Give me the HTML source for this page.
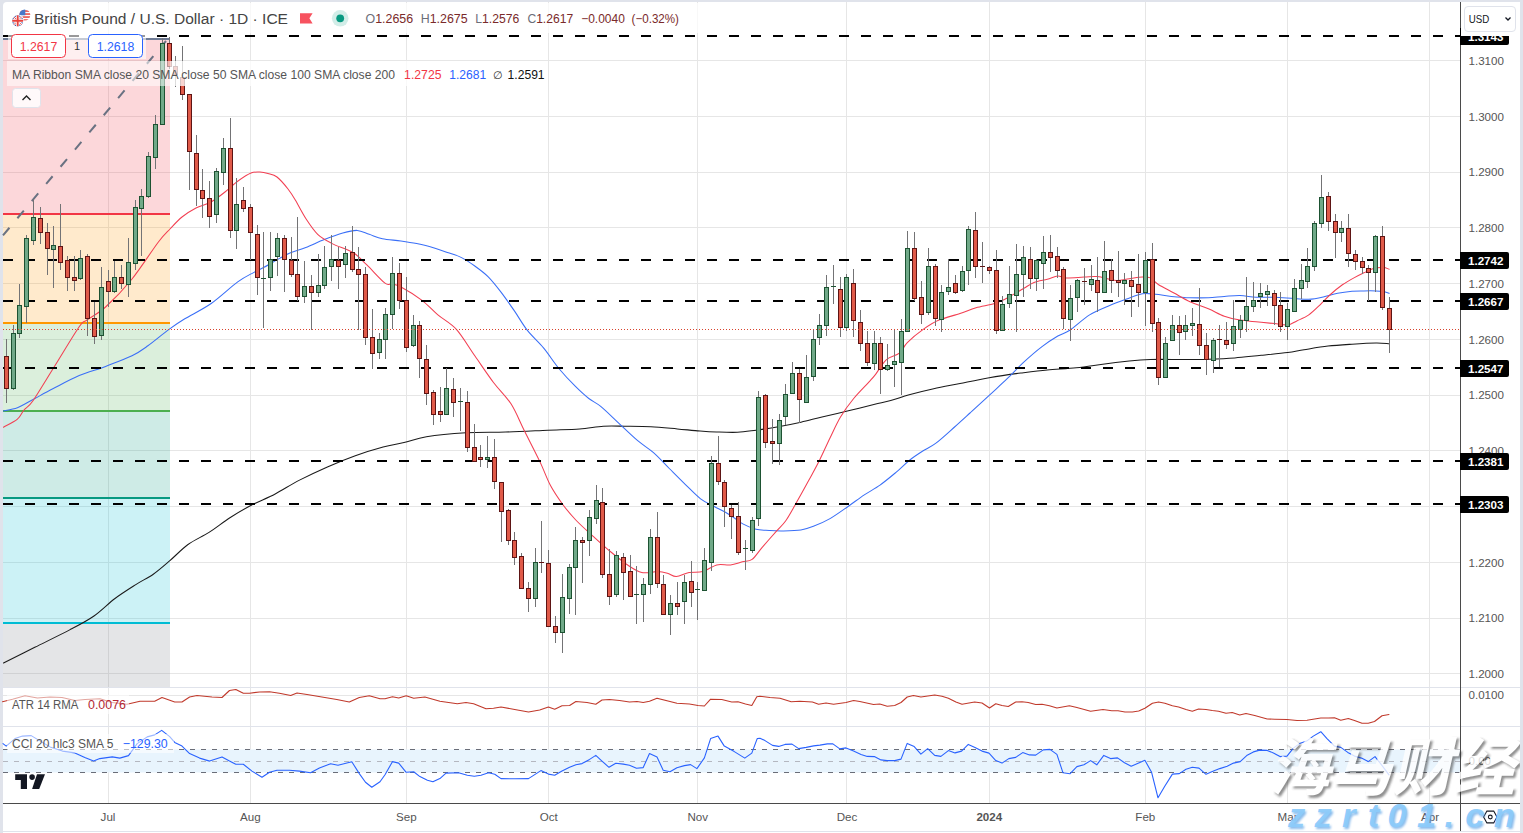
<!DOCTYPE html><html><head><meta charset="utf-8"><title>GBPUSD</title><style>html,body{margin:0;padding:0;background:#e0e3eb;overflow:hidden}body{width:1523px;height:833px}</style></head><body><svg width="1523" height="833" viewBox="0 0 1523 833" style="display:block">
<rect x="0" y="0" width="1523" height="833" fill="#e0e3eb"/>
<path d="M3,6 Q3,2 7,2 L1516,2 Q1520,2 1520,6 L1520,831 L3,831 Z" fill="#fff"/>
<rect x="3" y="832" width="1517" height="1" fill="#fff"/>
<g stroke="#e6e6e6" stroke-width="1" shape-rendering="crispEdges">
<line x1="108.5" y1="2" x2="108.5" y2="803"/>
<line x1="250.5" y1="2" x2="250.5" y2="803"/>
<line x1="406.5" y1="2" x2="406.5" y2="803"/>
<line x1="548.5" y1="2" x2="548.5" y2="803"/>
<line x1="697.5" y1="2" x2="697.5" y2="803"/>
<line x1="846.5" y1="2" x2="846.5" y2="803"/>
<line x1="989.5" y1="2" x2="989.5" y2="803"/>
<line x1="1145.5" y1="2" x2="1145.5" y2="803"/>
<line x1="1287.5" y1="2" x2="1287.5" y2="803"/>
<line x1="1429.5" y1="2" x2="1429.5" y2="803"/>
<line x1="3" y1="60.5" x2="1460" y2="60.5"/>
<line x1="3" y1="116.5" x2="1460" y2="116.5"/>
<line x1="3" y1="172.5" x2="1460" y2="172.5"/>
<line x1="3" y1="227.5" x2="1460" y2="227.5"/>
<line x1="3" y1="283.5" x2="1460" y2="283.5"/>
<line x1="3" y1="339.5" x2="1460" y2="339.5"/>
<line x1="3" y1="395.5" x2="1460" y2="395.5"/>
<line x1="3" y1="450.5" x2="1460" y2="450.5"/>
<line x1="3" y1="506.5" x2="1460" y2="506.5"/>
<line x1="3" y1="562.5" x2="1460" y2="562.5"/>
<line x1="3" y1="618.5" x2="1460" y2="618.5"/>
<line x1="3" y1="673.5" x2="1460" y2="673.5"/>
<line x1="3" y1="695.5" x2="1460" y2="695.5"/>
<line x1="3" y1="761.5" x2="1460" y2="761.5"/>
</g>
<rect x="3" y="39" width="167" height="175" fill="#f23645" fill-opacity="0.2"/>
<rect x="3" y="214" width="167" height="109" fill="#ff9800" fill-opacity="0.2"/>
<rect x="3" y="323" width="167" height="88" fill="#4caf50" fill-opacity="0.2"/>
<rect x="3" y="411" width="167" height="87" fill="#089981" fill-opacity="0.2"/>
<rect x="3" y="498" width="167" height="125" fill="#00bcd4" fill-opacity="0.2"/>
<rect x="3" y="623" width="167" height="64" fill="#787b86" fill-opacity="0.2"/>
<line x1="3" y1="39" x2="170" y2="39" stroke="#6f7b95" stroke-width="2"/>
<line x1="3" y1="214" x2="170" y2="214" stroke="#f23645" stroke-width="2"/>
<line x1="3" y1="323" x2="170" y2="323" stroke="#ff9800" stroke-width="2"/>
<line x1="3" y1="411" x2="170" y2="411" stroke="#4caf50" stroke-width="2"/>
<line x1="3" y1="498" x2="170" y2="498" stroke="#089981" stroke-width="2"/>
<line x1="3" y1="623" x2="170" y2="623" stroke="#00bcd4" stroke-width="2"/>
<line x1="3" y1="235.4" x2="166" y2="41" stroke="#6a7282" stroke-width="2" stroke-dasharray="10 12.4"/>
<path d="M3.5,663.0 C8.5,660.5 24.2,652.6 34.8,647.3 C45.4,642.0 60.2,634.9 69.7,629.9 C79.2,624.9 86.8,621.0 94.0,616.0 C101.2,611.0 108.3,603.5 115.0,598.5 C121.7,593.5 129.7,588.5 135.8,584.6 C141.9,580.7 147.9,578.0 153.3,574.2 C158.7,570.4 164.0,565.7 169.6,560.9 C175.2,556.1 181.7,549.1 188.0,544.5 C194.3,539.9 202.3,536.7 209.0,532.4 C215.7,528.1 223.2,522.0 229.9,517.7 C236.6,513.4 243.6,509.3 250.8,505.5 C258.0,501.7 267.4,498.1 275.2,494.0 C283.0,489.9 291.1,484.4 299.5,480.1 C307.9,475.8 318.5,470.8 327.4,466.9 C336.3,463.0 346.4,458.9 355.3,455.7 C364.2,452.5 375.3,449.1 383.1,447.0 C390.9,444.9 397.1,444.1 404.0,442.5 C410.9,440.9 416.5,438.4 426.4,436.8 C436.3,435.2 453.3,433.6 466.0,432.8 C478.7,432.0 492.5,432.4 505.6,432.0 C518.7,431.6 536.1,430.7 547.9,430.2 C559.7,429.7 570.7,429.5 579.6,428.9 C588.5,428.3 596.1,426.6 603.3,426.2 C610.5,425.8 616.9,426.1 624.5,426.2 C632.1,426.3 642.5,426.3 650.9,426.7 C659.3,427.1 669.4,428.2 677.3,428.9 C685.2,429.6 693.7,430.5 700.0,431.0 C706.3,431.5 710.4,431.8 716.4,432.0 C722.4,432.2 731.2,432.6 737.5,432.3 C743.8,432.0 749.7,431.0 756.0,430.2 C762.3,429.4 769.8,428.3 777.0,427.0 C784.2,425.7 793.8,423.8 801.0,422.2 C808.2,420.6 814.4,418.8 822.0,417.0 C829.6,415.2 840.0,412.8 848.4,410.8 C856.8,408.8 868.0,405.9 874.8,404.3 C881.6,402.7 885.2,402.1 890.7,400.6 C896.2,399.1 902.3,396.7 909.2,394.8 C916.1,392.9 925.6,390.6 933.7,388.8 C941.8,387.0 951.1,385.3 960.0,383.5 C968.9,381.7 979.5,379.4 989.2,377.7 C998.9,376.0 1011.6,374.2 1020.9,373.0 C1030.2,371.8 1038.4,370.7 1047.3,369.9 C1056.2,369.1 1067.5,368.6 1076.4,367.7 C1085.3,366.8 1094.4,365.3 1102.8,364.2 C1111.2,363.1 1121.6,361.9 1129.2,361.1 C1136.8,360.3 1141.9,359.8 1150.3,359.5 C1158.7,359.2 1172.7,359.5 1182.0,359.5 C1191.3,359.5 1200.0,359.5 1208.4,359.2 C1216.8,358.9 1226.4,358.5 1234.8,357.9 C1243.2,357.3 1252.7,356.1 1261.2,355.3 C1269.7,354.5 1280.9,353.5 1287.7,352.6 C1294.5,351.7 1297.6,350.7 1304.0,349.7 C1310.4,348.7 1320.3,347.0 1328.0,346.1 C1335.7,345.2 1344.3,344.7 1352.0,344.2 C1359.7,343.7 1370.0,343.1 1376.0,343.0 C1382.0,342.9 1387.1,343.6 1389.2,343.7" fill="none" stroke="#1a1a1a" stroke-width="1.05" stroke-linejoin="round" stroke-linecap="round" />
<path d="M3.5,411.0 C5.7,410.5 12.9,409.4 17.4,407.7 C21.9,406.0 26.0,403.2 31.7,400.2 C37.4,397.2 45.2,392.7 52.8,388.8 C60.4,384.9 70.8,379.2 79.2,375.6 C87.6,372.0 97.2,369.6 105.6,366.4 C114.0,363.2 125.2,359.1 132.0,355.8 C138.8,352.5 142.0,350.0 147.9,345.8 C153.8,341.6 163.1,333.7 169.0,329.4 C174.9,325.1 178.0,322.9 184.8,318.8 C191.6,314.7 202.7,309.4 211.2,303.5 C219.7,297.6 230.9,286.8 237.7,281.9 C244.5,277.0 249.3,274.9 253.5,272.6 C257.7,270.3 259.8,269.6 264.0,267.3 C268.2,265.0 275.8,260.4 280.0,258.1 C284.2,255.8 286.4,254.5 290.5,252.8 C294.6,251.1 300.4,249.6 305.8,247.5 C311.2,245.4 318.4,241.9 324.3,239.6 C330.2,237.3 337.5,234.5 342.8,233.0 C348.1,231.5 353.1,230.2 357.3,230.4 C361.5,230.6 365.2,233.0 369.2,234.3 C373.2,235.6 377.3,237.7 382.4,238.8 C387.5,239.9 395.4,240.1 400.9,240.9 C406.4,241.7 411.6,242.5 416.7,243.6 C421.8,244.7 427.5,246.0 432.6,247.5 C437.7,249.0 443.8,251.2 448.4,252.8 C453.0,254.4 457.4,255.5 461.6,257.6 C465.8,259.7 470.6,263.0 474.8,266.0 C479.0,269.0 483.8,272.4 488.0,276.6 C492.2,280.8 497.0,286.9 501.2,292.4 C505.4,297.9 510.2,304.8 514.4,310.9 C518.6,317.0 522.9,324.8 527.6,330.7 C532.3,336.6 538.4,341.8 543.5,347.9 C548.6,354.0 554.2,362.9 559.3,369.0 C564.4,375.1 570.5,381.5 575.2,386.2 C579.9,390.9 584.7,395.3 588.8,398.5 C592.9,401.7 595.8,402.4 600.7,406.4 C605.6,410.4 613.3,418.1 619.2,423.6 C625.1,429.1 632.2,436.1 637.7,440.7 C643.2,445.3 648.4,448.2 653.5,452.6 C658.6,457.0 664.2,463.4 669.3,468.5 C674.4,473.6 680.2,479.5 685.2,484.3 C690.2,489.1 696.0,495.3 700.6,498.8 C705.2,502.3 709.2,503.7 713.8,506.2 C718.4,508.7 725.0,511.9 729.6,514.7 C734.2,517.5 738.6,521.6 742.8,523.9 C747.0,526.2 751.8,528.1 756.0,529.2 C760.2,530.3 765.0,530.2 769.2,530.5 C773.4,530.8 777.3,531.1 782.4,531.0 C787.5,530.9 795.8,530.8 800.9,530.0 C806.0,529.2 809.3,527.8 814.0,526.0 C818.7,524.2 824.5,521.8 830.0,518.6 C835.5,515.4 842.9,510.0 848.4,506.2 C853.9,502.4 859.2,498.3 864.3,494.9 C869.4,491.5 874.9,488.7 880.0,485.1 C885.1,481.5 891.3,476.3 896.0,472.4 C900.7,468.5 905.0,463.9 909.2,460.5 C913.4,457.1 918.2,454.0 922.4,451.3 C926.6,448.6 930.5,447.2 935.6,443.4 C940.7,439.6 948.5,432.4 954.0,427.5 C959.5,422.6 964.4,418.1 970.0,413.0 C975.6,407.9 983.2,401.0 989.2,395.4 C995.2,389.8 1002.2,383.5 1007.7,378.2 C1013.2,372.9 1018.0,367.5 1023.5,362.4 C1029.0,357.3 1036.5,350.8 1042.0,346.6 C1047.5,342.4 1053.4,338.6 1057.8,336.0 C1062.2,333.4 1064.7,333.6 1069.8,330.2 C1074.9,326.8 1083.5,318.7 1089.6,314.9 C1095.7,311.1 1102.1,308.7 1108.0,306.2 C1113.9,303.7 1121.1,301.0 1126.6,299.0 C1132.1,297.0 1137.8,294.5 1142.4,293.7 C1147.0,292.9 1150.9,293.9 1155.6,294.3 C1160.3,294.7 1166.0,295.9 1171.5,296.4 C1177.0,296.9 1184.1,297.5 1190.0,297.7 C1195.9,297.9 1202.9,297.9 1208.4,297.7 C1213.9,297.5 1219.2,296.7 1224.3,296.4 C1229.4,296.1 1234.9,295.5 1240.0,295.6 C1245.1,295.7 1250.5,296.9 1256.0,297.2 C1261.5,297.5 1268.4,297.0 1274.5,297.2 C1280.6,297.4 1288.9,298.2 1294.4,298.5 C1299.9,298.8 1304.2,299.6 1308.8,299.3 C1313.4,299.0 1318.6,297.9 1323.2,296.9 C1327.8,295.9 1333.0,294.2 1337.6,293.3 C1342.2,292.4 1347.8,291.7 1352.0,291.3 C1356.2,290.9 1360.2,291.0 1364.0,290.9 C1367.8,290.8 1372.9,290.8 1376.0,290.9 C1379.1,291.0 1381.1,291.2 1383.2,291.6 C1385.3,292.0 1388.2,293.0 1389.2,293.3" fill="none" stroke="#3a6ff7" stroke-width="1.05" stroke-linejoin="round" stroke-linecap="round" />
<path d="M3.5,427.2 C5.7,425.9 14.1,422.0 17.4,419.2 C20.7,416.4 21.5,413.0 24.0,410.0 C26.5,407.0 28.2,407.6 33.0,400.7 C37.8,393.8 46.7,378.8 54.1,367.0 C61.5,355.2 73.9,334.2 79.2,326.7 C84.5,319.2 82.8,323.2 87.0,320.0 C91.2,316.8 98.4,313.6 105.6,307.0 C112.8,300.4 123.6,289.4 132.0,279.0 C140.4,268.6 152.3,250.0 158.4,242.0 C164.5,234.0 166.2,233.0 170.0,229.0 C173.8,225.0 177.8,220.4 182.0,217.0 C186.2,213.6 191.4,210.4 196.0,208.0 C200.6,205.6 206.4,204.6 211.0,202.0 C215.6,199.4 220.7,195.4 225.0,192.0 C229.3,188.6 233.8,184.0 238.0,181.0 C242.2,178.0 247.5,174.4 251.0,173.0 C254.5,171.6 257.3,171.9 260.0,172.0 C262.7,172.1 265.3,172.7 268.0,173.5 C270.7,174.3 273.8,174.5 277.0,177.0 C280.2,179.5 285.1,185.3 288.0,189.0 C290.9,192.7 292.5,195.3 295.3,200.0 C298.1,204.7 302.2,213.0 305.8,218.5 C309.4,224.0 313.5,230.3 317.7,234.3 C321.9,238.3 326.5,240.6 332.2,243.6 C337.9,246.6 347.9,249.4 353.4,252.8 C358.9,256.2 361.5,259.8 366.6,264.7 C371.7,269.6 381.0,280.1 385.0,283.2 C389.0,286.3 389.1,283.4 391.7,284.0 C394.3,284.6 396.2,284.4 401.0,287.0 C405.8,289.6 416.1,295.8 422.0,300.3 C427.9,304.8 432.4,310.2 437.9,314.9 C443.4,319.6 450.5,322.9 456.4,329.4 C462.3,335.9 468.9,347.4 474.8,355.8 C480.7,364.2 487.5,374.5 493.3,382.2 C499.1,389.9 506.1,396.2 511.0,403.8 C515.9,411.4 519.4,420.7 524.0,430.0 C528.6,439.3 535.8,453.0 540.0,461.9 C544.2,470.8 546.9,478.9 550.5,485.6 C554.1,492.3 558.4,498.5 562.4,504.0 C566.4,509.5 571.0,514.9 575.8,520.0 C580.6,525.1 587.1,530.8 592.6,535.8 C598.1,540.8 604.6,546.8 610.3,551.5 C616.0,556.2 623.0,561.9 628.0,565.3 C633.0,568.7 637.1,571.6 641.8,572.6 C646.5,573.6 653.5,571.5 657.6,571.6 C661.7,571.7 664.4,572.4 667.4,573.2 C670.4,574.0 672.8,576.6 676.3,576.5 C679.8,576.4 684.7,573.4 689.0,572.6 C693.3,571.8 698.5,572.8 702.9,571.6 C707.3,570.4 712.3,566.0 716.7,564.9 C721.1,563.8 726.4,565.4 730.5,564.9 C734.6,564.4 738.8,562.7 742.3,561.8 C745.8,560.9 748.9,561.7 752.1,559.4 C755.3,557.1 758.2,552.0 762.0,547.6 C765.8,543.2 772.0,536.1 775.8,531.8 C779.6,527.5 782.4,525.4 785.6,521.0 C788.8,516.6 791.9,510.6 795.6,504.1 C799.3,497.6 805.0,487.3 808.8,480.3 C812.6,473.3 816.0,467.3 819.4,460.5 C822.8,453.7 826.6,445.0 830.0,438.0 C833.4,431.0 836.7,423.3 840.5,417.0 C844.3,410.7 849.0,404.2 853.7,398.5 C858.4,392.8 866.1,385.2 869.6,381.3 C873.1,377.4 872.9,377.7 875.6,374.3 C878.3,370.9 882.4,363.2 886.2,359.8 C890.0,356.4 896.0,356.0 899.4,353.2 C902.8,350.4 903.5,346.4 907.3,342.6 C911.1,338.8 918.1,333.0 923.2,329.4 C928.3,325.8 933.1,322.6 939.0,320.1 C944.9,317.6 954.1,315.5 960.0,313.5 C965.9,311.5 970.5,309.3 976.0,307.7 C981.5,306.1 989.4,305.1 994.5,303.5 C999.6,301.9 1003.1,300.1 1007.7,297.7 C1012.3,295.3 1019.3,290.9 1023.5,288.5 C1027.7,286.1 1030.2,283.9 1034.0,282.4 C1037.8,280.9 1043.5,280.2 1047.3,279.2 C1051.1,278.2 1054.8,276.2 1057.8,276.0 C1060.8,275.8 1061.6,277.7 1065.8,277.9 C1070.0,278.1 1079.2,277.3 1084.3,277.1 C1089.4,276.9 1092.4,276.1 1097.5,276.6 C1102.6,277.1 1110.9,280.2 1116.0,280.5 C1121.1,280.8 1125.0,279.2 1129.2,278.7 C1133.4,278.2 1139.0,277.2 1142.4,277.1 C1145.8,277.0 1147.8,276.7 1150.3,277.9 C1152.8,279.1 1154.5,282.1 1158.3,284.5 C1162.1,286.9 1168.9,290.2 1174.0,293.0 C1179.1,295.8 1184.5,299.2 1190.0,301.7 C1195.5,304.2 1202.9,306.5 1208.4,308.8 C1213.9,311.1 1219.2,314.4 1224.3,316.2 C1229.4,318.0 1234.5,319.2 1240.0,320.1 C1245.5,321.0 1253.1,321.4 1258.6,322.0 C1264.1,322.6 1269.8,323.1 1274.5,323.6 C1279.2,324.1 1284.1,325.4 1287.7,325.0 C1291.3,324.6 1293.4,322.5 1296.8,320.9 C1300.2,319.3 1305.0,317.6 1308.8,314.9 C1312.6,312.2 1317.3,307.4 1320.8,304.1 C1324.3,300.8 1326.9,297.6 1330.4,294.5 C1333.9,291.4 1338.6,287.5 1342.4,284.8 C1346.2,282.1 1350.9,279.5 1354.4,277.6 C1357.9,275.7 1360.9,274.3 1364.0,272.8 C1367.1,271.3 1370.5,269.3 1373.6,268.5 C1376.7,267.7 1380.7,267.5 1383.2,267.6 C1385.7,267.7 1388.2,268.9 1389.2,269.2" fill="none" stroke="#f23f52" stroke-width="1.05" stroke-linejoin="round" stroke-linecap="round" />
<line x1="3" y1="36" x2="1460" y2="36" stroke="#000" stroke-width="2" stroke-dasharray="10 12"/>
<line x1="3" y1="260" x2="1460" y2="260" stroke="#000" stroke-width="2" stroke-dasharray="10 12"/>
<line x1="3" y1="301" x2="1460" y2="301" stroke="#000" stroke-width="2" stroke-dasharray="10 12"/>
<line x1="3" y1="368" x2="1460" y2="368" stroke="#000" stroke-width="2" stroke-dasharray="10 12"/>
<line x1="3" y1="461" x2="1460" y2="461" stroke="#000" stroke-width="2" stroke-dasharray="10 12"/>
<line x1="3" y1="504" x2="1460" y2="504" stroke="#000" stroke-width="2" stroke-dasharray="10 12"/>
<g shape-rendering="crispEdges">
<rect x="6" y="339" width="1" height="17" fill="#737375"/>
<rect x="6" y="388" width="1" height="15" fill="#737375"/>
<rect x="4" y="356" width="5" height="33" fill="#5d1414"/>
<rect x="5" y="357" width="3" height="31" fill="#e05a49"/>
<rect x="13" y="325" width="1" height="8" fill="#737375"/>
<rect x="13" y="388" width="1" height="2" fill="#737375"/>
<rect x="11" y="333" width="5" height="56" fill="#1d5232"/>
<rect x="12" y="334" width="3" height="54" fill="#70a988"/>
<rect x="19" y="284" width="1" height="21" fill="#737375"/>
<rect x="19" y="333" width="1" height="5" fill="#737375"/>
<rect x="17" y="305" width="5" height="29" fill="#1d5232"/>
<rect x="18" y="306" width="3" height="27" fill="#70a988"/>
<rect x="26" y="235" width="1" height="3" fill="#737375"/>
<rect x="26" y="306" width="1" height="17" fill="#737375"/>
<rect x="24" y="238" width="5" height="69" fill="#1d5232"/>
<rect x="25" y="239" width="3" height="67" fill="#70a988"/>
<rect x="33" y="199" width="1" height="18" fill="#737375"/>
<rect x="33" y="240" width="1" height="5" fill="#737375"/>
<rect x="31" y="217" width="5" height="24" fill="#1d5232"/>
<rect x="32" y="218" width="3" height="22" fill="#70a988"/>
<rect x="40" y="207" width="1" height="11" fill="#737375"/>
<rect x="40" y="232" width="1" height="12" fill="#737375"/>
<rect x="38" y="218" width="5" height="15" fill="#5d1414"/>
<rect x="39" y="219" width="3" height="13" fill="#e05a49"/>
<rect x="47" y="223" width="1" height="9" fill="#737375"/>
<rect x="47" y="248" width="1" height="27" fill="#737375"/>
<rect x="45" y="232" width="5" height="17" fill="#5d1414"/>
<rect x="46" y="233" width="3" height="15" fill="#e05a49"/>
<rect x="53" y="226" width="1" height="19" fill="#737375"/>
<rect x="53" y="249" width="1" height="39" fill="#737375"/>
<rect x="51" y="245" width="5" height="5" fill="#1d5232"/>
<rect x="52" y="246" width="3" height="3" fill="#70a988"/>
<rect x="60" y="204" width="1" height="42" fill="#737375"/>
<rect x="60" y="262" width="1" height="8" fill="#737375"/>
<rect x="58" y="246" width="5" height="17" fill="#5d1414"/>
<rect x="59" y="247" width="3" height="15" fill="#e05a49"/>
<rect x="67" y="256" width="1" height="4" fill="#737375"/>
<rect x="67" y="277" width="1" height="14" fill="#737375"/>
<rect x="65" y="260" width="5" height="18" fill="#5d1414"/>
<rect x="66" y="261" width="3" height="16" fill="#e05a49"/>
<rect x="74" y="256" width="1" height="21" fill="#737375"/>
<rect x="74" y="280" width="1" height="11" fill="#737375"/>
<rect x="72" y="277" width="5" height="4" fill="#5d1414"/>
<rect x="73" y="278" width="3" height="2" fill="#e05a49"/>
<rect x="80" y="250" width="1" height="8" fill="#737375"/>
<rect x="80" y="278" width="1" height="2" fill="#737375"/>
<rect x="78" y="258" width="5" height="21" fill="#1d5232"/>
<rect x="79" y="259" width="3" height="19" fill="#70a988"/>
<rect x="87" y="254" width="1" height="2" fill="#737375"/>
<rect x="87" y="318" width="1" height="18" fill="#737375"/>
<rect x="85" y="256" width="5" height="63" fill="#5d1414"/>
<rect x="86" y="257" width="3" height="61" fill="#e05a49"/>
<rect x="94" y="302" width="1" height="16" fill="#737375"/>
<rect x="94" y="336" width="1" height="8" fill="#737375"/>
<rect x="92" y="318" width="5" height="19" fill="#5d1414"/>
<rect x="93" y="319" width="3" height="17" fill="#e05a49"/>
<rect x="101" y="267" width="1" height="20" fill="#737375"/>
<rect x="101" y="335" width="1" height="5" fill="#737375"/>
<rect x="99" y="287" width="5" height="49" fill="#1d5232"/>
<rect x="100" y="288" width="3" height="47" fill="#70a988"/>
<rect x="108" y="270" width="1" height="11" fill="#737375"/>
<rect x="108" y="291" width="1" height="16" fill="#737375"/>
<rect x="106" y="281" width="5" height="11" fill="#5d1414"/>
<rect x="107" y="282" width="3" height="9" fill="#e05a49"/>
<rect x="114" y="261" width="1" height="16" fill="#737375"/>
<rect x="114" y="291" width="1" height="2" fill="#737375"/>
<rect x="112" y="277" width="5" height="15" fill="#1d5232"/>
<rect x="113" y="278" width="3" height="13" fill="#70a988"/>
<rect x="121" y="265" width="1" height="12" fill="#737375"/>
<rect x="121" y="283" width="1" height="6" fill="#737375"/>
<rect x="119" y="277" width="5" height="7" fill="#5d1414"/>
<rect x="120" y="278" width="3" height="5" fill="#e05a49"/>
<rect x="128" y="238" width="1" height="24" fill="#737375"/>
<rect x="128" y="284" width="1" height="13" fill="#737375"/>
<rect x="126" y="262" width="5" height="23" fill="#1d5232"/>
<rect x="127" y="263" width="3" height="21" fill="#70a988"/>
<rect x="135" y="200" width="1" height="7" fill="#737375"/>
<rect x="135" y="263" width="1" height="7" fill="#737375"/>
<rect x="133" y="207" width="5" height="57" fill="#1d5232"/>
<rect x="134" y="208" width="3" height="55" fill="#70a988"/>
<rect x="141" y="189" width="1" height="7" fill="#737375"/>
<rect x="141" y="208" width="1" height="48" fill="#737375"/>
<rect x="139" y="196" width="5" height="13" fill="#1d5232"/>
<rect x="140" y="197" width="3" height="11" fill="#70a988"/>
<rect x="148" y="152" width="1" height="4" fill="#737375"/>
<rect x="148" y="196" width="1" height="2" fill="#737375"/>
<rect x="146" y="156" width="5" height="41" fill="#1d5232"/>
<rect x="147" y="157" width="3" height="39" fill="#70a988"/>
<rect x="155" y="115" width="1" height="9" fill="#737375"/>
<rect x="155" y="157" width="1" height="12" fill="#737375"/>
<rect x="153" y="124" width="5" height="34" fill="#1d5232"/>
<rect x="154" y="125" width="3" height="32" fill="#70a988"/>
<rect x="162" y="38" width="1" height="5" fill="#737375"/>
<rect x="160" y="43" width="5" height="82" fill="#1d5232"/>
<rect x="161" y="44" width="3" height="80" fill="#70a988"/>
<rect x="169" y="37" width="1" height="6" fill="#737375"/>
<rect x="169" y="66" width="1" height="3" fill="#737375"/>
<rect x="167" y="43" width="5" height="24" fill="#5d1414"/>
<rect x="168" y="44" width="3" height="22" fill="#e05a49"/>
<rect x="175" y="56" width="1" height="10" fill="#737375"/>
<rect x="175" y="74" width="1" height="13" fill="#737375"/>
<rect x="173" y="66" width="5" height="9" fill="#5d1414"/>
<rect x="174" y="67" width="3" height="7" fill="#e05a49"/>
<rect x="182" y="46" width="1" height="31" fill="#737375"/>
<rect x="182" y="94" width="1" height="6" fill="#737375"/>
<rect x="180" y="77" width="5" height="18" fill="#5d1414"/>
<rect x="181" y="78" width="3" height="16" fill="#e05a49"/>
<rect x="189" y="151" width="1" height="39" fill="#737375"/>
<rect x="187" y="94" width="5" height="58" fill="#5d1414"/>
<rect x="188" y="95" width="3" height="56" fill="#e05a49"/>
<rect x="196" y="135" width="1" height="18" fill="#737375"/>
<rect x="196" y="189" width="1" height="17" fill="#737375"/>
<rect x="194" y="153" width="5" height="37" fill="#5d1414"/>
<rect x="195" y="154" width="3" height="35" fill="#e05a49"/>
<rect x="202" y="169" width="1" height="21" fill="#737375"/>
<rect x="202" y="198" width="1" height="20" fill="#737375"/>
<rect x="200" y="190" width="5" height="9" fill="#5d1414"/>
<rect x="201" y="191" width="3" height="7" fill="#e05a49"/>
<rect x="209" y="181" width="1" height="17" fill="#737375"/>
<rect x="209" y="216" width="1" height="12" fill="#737375"/>
<rect x="207" y="198" width="5" height="19" fill="#5d1414"/>
<rect x="208" y="199" width="3" height="17" fill="#e05a49"/>
<rect x="216" y="168" width="1" height="3" fill="#737375"/>
<rect x="216" y="214" width="1" height="9" fill="#737375"/>
<rect x="214" y="171" width="5" height="44" fill="#1d5232"/>
<rect x="215" y="172" width="3" height="42" fill="#70a988"/>
<rect x="223" y="138" width="1" height="10" fill="#737375"/>
<rect x="223" y="172" width="1" height="13" fill="#737375"/>
<rect x="221" y="148" width="5" height="25" fill="#1d5232"/>
<rect x="222" y="149" width="3" height="23" fill="#70a988"/>
<rect x="230" y="118" width="1" height="30" fill="#737375"/>
<rect x="230" y="230" width="1" height="8" fill="#737375"/>
<rect x="228" y="148" width="5" height="83" fill="#5d1414"/>
<rect x="229" y="149" width="3" height="81" fill="#e05a49"/>
<rect x="236" y="178" width="1" height="26" fill="#737375"/>
<rect x="236" y="230" width="1" height="19" fill="#737375"/>
<rect x="234" y="204" width="5" height="27" fill="#1d5232"/>
<rect x="235" y="205" width="3" height="25" fill="#70a988"/>
<rect x="243" y="187" width="1" height="13" fill="#737375"/>
<rect x="243" y="208" width="1" height="4" fill="#737375"/>
<rect x="241" y="200" width="5" height="9" fill="#5d1414"/>
<rect x="242" y="201" width="3" height="7" fill="#e05a49"/>
<rect x="250" y="204" width="1" height="3" fill="#737375"/>
<rect x="250" y="232" width="1" height="28" fill="#737375"/>
<rect x="248" y="207" width="5" height="26" fill="#5d1414"/>
<rect x="249" y="208" width="3" height="24" fill="#e05a49"/>
<rect x="257" y="225" width="1" height="9" fill="#737375"/>
<rect x="257" y="277" width="1" height="18" fill="#737375"/>
<rect x="255" y="234" width="5" height="44" fill="#5d1414"/>
<rect x="256" y="235" width="3" height="42" fill="#e05a49"/>
<rect x="263" y="232" width="1" height="46" fill="#737375"/>
<rect x="263" y="278" width="1" height="50" fill="#737375"/>
<rect x="261" y="278" width="5" height="1" fill="#1d5232"/>
<rect x="270" y="232" width="1" height="27" fill="#737375"/>
<rect x="270" y="277" width="1" height="14" fill="#737375"/>
<rect x="268" y="259" width="5" height="19" fill="#1d5232"/>
<rect x="269" y="260" width="3" height="17" fill="#70a988"/>
<rect x="277" y="233" width="1" height="5" fill="#737375"/>
<rect x="277" y="256" width="1" height="20" fill="#737375"/>
<rect x="275" y="238" width="5" height="19" fill="#1d5232"/>
<rect x="276" y="239" width="3" height="17" fill="#70a988"/>
<rect x="284" y="235" width="1" height="3" fill="#737375"/>
<rect x="284" y="259" width="1" height="33" fill="#737375"/>
<rect x="282" y="238" width="5" height="22" fill="#5d1414"/>
<rect x="283" y="239" width="3" height="20" fill="#e05a49"/>
<rect x="291" y="237" width="1" height="23" fill="#737375"/>
<rect x="291" y="274" width="1" height="3" fill="#737375"/>
<rect x="289" y="260" width="5" height="15" fill="#5d1414"/>
<rect x="290" y="261" width="3" height="13" fill="#e05a49"/>
<rect x="297" y="217" width="1" height="57" fill="#737375"/>
<rect x="297" y="296" width="1" height="5" fill="#737375"/>
<rect x="295" y="274" width="5" height="23" fill="#5d1414"/>
<rect x="296" y="275" width="3" height="21" fill="#e05a49"/>
<rect x="304" y="261" width="1" height="25" fill="#737375"/>
<rect x="304" y="296" width="1" height="7" fill="#737375"/>
<rect x="302" y="286" width="5" height="11" fill="#1d5232"/>
<rect x="303" y="287" width="3" height="9" fill="#70a988"/>
<rect x="311" y="275" width="1" height="11" fill="#737375"/>
<rect x="311" y="292" width="1" height="38" fill="#737375"/>
<rect x="309" y="286" width="5" height="7" fill="#5d1414"/>
<rect x="310" y="287" width="3" height="5" fill="#e05a49"/>
<rect x="318" y="254" width="1" height="31" fill="#737375"/>
<rect x="318" y="292" width="1" height="5" fill="#737375"/>
<rect x="316" y="285" width="5" height="8" fill="#1d5232"/>
<rect x="317" y="286" width="3" height="6" fill="#70a988"/>
<rect x="324" y="246" width="1" height="21" fill="#737375"/>
<rect x="324" y="285" width="1" height="4" fill="#737375"/>
<rect x="322" y="267" width="5" height="19" fill="#1d5232"/>
<rect x="323" y="268" width="3" height="17" fill="#70a988"/>
<rect x="331" y="235" width="1" height="24" fill="#737375"/>
<rect x="331" y="266" width="1" height="15" fill="#737375"/>
<rect x="329" y="259" width="5" height="8" fill="#1d5232"/>
<rect x="330" y="260" width="3" height="6" fill="#70a988"/>
<rect x="338" y="247" width="1" height="13" fill="#737375"/>
<rect x="338" y="266" width="1" height="23" fill="#737375"/>
<rect x="336" y="260" width="5" height="7" fill="#5d1414"/>
<rect x="337" y="261" width="3" height="5" fill="#e05a49"/>
<rect x="345" y="246" width="1" height="7" fill="#737375"/>
<rect x="345" y="264" width="1" height="14" fill="#737375"/>
<rect x="343" y="253" width="5" height="12" fill="#1d5232"/>
<rect x="344" y="254" width="3" height="10" fill="#70a988"/>
<rect x="352" y="226" width="1" height="26" fill="#737375"/>
<rect x="352" y="269" width="1" height="3" fill="#737375"/>
<rect x="350" y="252" width="5" height="18" fill="#5d1414"/>
<rect x="351" y="253" width="3" height="16" fill="#e05a49"/>
<rect x="358" y="247" width="1" height="22" fill="#737375"/>
<rect x="358" y="274" width="1" height="56" fill="#737375"/>
<rect x="356" y="269" width="5" height="6" fill="#5d1414"/>
<rect x="357" y="270" width="3" height="4" fill="#e05a49"/>
<rect x="365" y="267" width="1" height="7" fill="#737375"/>
<rect x="365" y="337" width="1" height="8" fill="#737375"/>
<rect x="363" y="274" width="5" height="64" fill="#5d1414"/>
<rect x="364" y="275" width="3" height="62" fill="#e05a49"/>
<rect x="372" y="309" width="1" height="28" fill="#737375"/>
<rect x="372" y="353" width="1" height="16" fill="#737375"/>
<rect x="370" y="337" width="5" height="17" fill="#5d1414"/>
<rect x="371" y="338" width="3" height="15" fill="#e05a49"/>
<rect x="379" y="333" width="1" height="6" fill="#737375"/>
<rect x="379" y="352" width="1" height="7" fill="#737375"/>
<rect x="377" y="339" width="5" height="14" fill="#1d5232"/>
<rect x="378" y="340" width="3" height="12" fill="#70a988"/>
<rect x="385" y="308" width="1" height="6" fill="#737375"/>
<rect x="385" y="339" width="1" height="20" fill="#737375"/>
<rect x="383" y="314" width="5" height="26" fill="#1d5232"/>
<rect x="384" y="315" width="3" height="24" fill="#70a988"/>
<rect x="392" y="257" width="1" height="16" fill="#737375"/>
<rect x="392" y="314" width="1" height="15" fill="#737375"/>
<rect x="390" y="273" width="5" height="42" fill="#1d5232"/>
<rect x="391" y="274" width="3" height="40" fill="#70a988"/>
<rect x="399" y="263" width="1" height="10" fill="#737375"/>
<rect x="399" y="300" width="1" height="9" fill="#737375"/>
<rect x="397" y="273" width="5" height="28" fill="#5d1414"/>
<rect x="398" y="274" width="3" height="26" fill="#e05a49"/>
<rect x="406" y="277" width="1" height="23" fill="#737375"/>
<rect x="406" y="347" width="1" height="5" fill="#737375"/>
<rect x="404" y="300" width="5" height="48" fill="#5d1414"/>
<rect x="405" y="301" width="3" height="46" fill="#e05a49"/>
<rect x="413" y="315" width="1" height="10" fill="#737375"/>
<rect x="413" y="345" width="1" height="2" fill="#737375"/>
<rect x="411" y="325" width="5" height="21" fill="#1d5232"/>
<rect x="412" y="326" width="3" height="19" fill="#70a988"/>
<rect x="419" y="321" width="1" height="4" fill="#737375"/>
<rect x="419" y="358" width="1" height="20" fill="#737375"/>
<rect x="417" y="325" width="5" height="34" fill="#5d1414"/>
<rect x="418" y="326" width="3" height="32" fill="#e05a49"/>
<rect x="426" y="345" width="1" height="14" fill="#737375"/>
<rect x="426" y="393" width="1" height="12" fill="#737375"/>
<rect x="424" y="359" width="5" height="35" fill="#5d1414"/>
<rect x="425" y="360" width="3" height="33" fill="#e05a49"/>
<rect x="433" y="390" width="1" height="2" fill="#737375"/>
<rect x="433" y="414" width="1" height="11" fill="#737375"/>
<rect x="431" y="392" width="5" height="23" fill="#5d1414"/>
<rect x="432" y="393" width="3" height="21" fill="#e05a49"/>
<rect x="440" y="387" width="1" height="24" fill="#737375"/>
<rect x="440" y="414" width="1" height="8" fill="#737375"/>
<rect x="438" y="411" width="5" height="4" fill="#5d1414"/>
<rect x="439" y="412" width="3" height="2" fill="#e05a49"/>
<rect x="446" y="368" width="1" height="20" fill="#737375"/>
<rect x="444" y="388" width="5" height="27" fill="#1d5232"/>
<rect x="445" y="389" width="3" height="25" fill="#70a988"/>
<rect x="453" y="378" width="1" height="11" fill="#737375"/>
<rect x="453" y="402" width="1" height="15" fill="#737375"/>
<rect x="451" y="389" width="5" height="14" fill="#5d1414"/>
<rect x="452" y="390" width="3" height="12" fill="#e05a49"/>
<rect x="460" y="388" width="1" height="13" fill="#737375"/>
<rect x="460" y="401" width="1" height="30" fill="#737375"/>
<rect x="458" y="401" width="5" height="1" fill="#1d5232"/>
<rect x="467" y="391" width="1" height="11" fill="#737375"/>
<rect x="467" y="447" width="1" height="5" fill="#737375"/>
<rect x="465" y="402" width="5" height="46" fill="#5d1414"/>
<rect x="466" y="403" width="3" height="44" fill="#e05a49"/>
<rect x="474" y="424" width="1" height="23" fill="#737375"/>
<rect x="472" y="447" width="5" height="15" fill="#5d1414"/>
<rect x="473" y="448" width="3" height="13" fill="#e05a49"/>
<rect x="480" y="445" width="1" height="12" fill="#737375"/>
<rect x="480" y="459" width="1" height="8" fill="#737375"/>
<rect x="478" y="457" width="5" height="3" fill="#5d1414"/>
<rect x="479" y="458" width="3" height="1" fill="#e05a49"/>
<rect x="487" y="436" width="1" height="21" fill="#737375"/>
<rect x="487" y="459" width="1" height="9" fill="#737375"/>
<rect x="485" y="457" width="5" height="3" fill="#1d5232"/>
<rect x="486" y="458" width="3" height="1" fill="#70a988"/>
<rect x="494" y="439" width="1" height="18" fill="#737375"/>
<rect x="494" y="481" width="1" height="8" fill="#737375"/>
<rect x="492" y="457" width="5" height="25" fill="#5d1414"/>
<rect x="493" y="458" width="3" height="23" fill="#e05a49"/>
<rect x="501" y="511" width="1" height="31" fill="#737375"/>
<rect x="499" y="482" width="5" height="30" fill="#5d1414"/>
<rect x="500" y="483" width="3" height="28" fill="#e05a49"/>
<rect x="508" y="509" width="1" height="1" fill="#737375"/>
<rect x="508" y="540" width="1" height="5" fill="#737375"/>
<rect x="506" y="510" width="5" height="31" fill="#5d1414"/>
<rect x="507" y="511" width="3" height="29" fill="#e05a49"/>
<rect x="514" y="532" width="1" height="8" fill="#737375"/>
<rect x="514" y="557" width="1" height="8" fill="#737375"/>
<rect x="512" y="540" width="5" height="18" fill="#5d1414"/>
<rect x="513" y="541" width="3" height="16" fill="#e05a49"/>
<rect x="521" y="553" width="1" height="3" fill="#737375"/>
<rect x="519" y="556" width="5" height="33" fill="#5d1414"/>
<rect x="520" y="557" width="3" height="31" fill="#e05a49"/>
<rect x="528" y="582" width="1" height="6" fill="#737375"/>
<rect x="528" y="598" width="1" height="14" fill="#737375"/>
<rect x="526" y="588" width="5" height="11" fill="#5d1414"/>
<rect x="527" y="589" width="3" height="9" fill="#e05a49"/>
<rect x="535" y="548" width="1" height="14" fill="#737375"/>
<rect x="535" y="598" width="1" height="9" fill="#737375"/>
<rect x="533" y="562" width="5" height="37" fill="#1d5232"/>
<rect x="534" y="563" width="3" height="35" fill="#70a988"/>
<rect x="541" y="521" width="1" height="41" fill="#737375"/>
<rect x="541" y="563" width="1" height="10" fill="#737375"/>
<rect x="539" y="562" width="5" height="1" fill="#5d1414"/>
<rect x="548" y="550" width="1" height="13" fill="#737375"/>
<rect x="546" y="563" width="5" height="64" fill="#5d1414"/>
<rect x="547" y="564" width="3" height="62" fill="#e05a49"/>
<rect x="555" y="616" width="1" height="10" fill="#737375"/>
<rect x="555" y="632" width="1" height="11" fill="#737375"/>
<rect x="553" y="626" width="5" height="7" fill="#5d1414"/>
<rect x="554" y="627" width="3" height="5" fill="#e05a49"/>
<rect x="562" y="574" width="1" height="23" fill="#737375"/>
<rect x="562" y="632" width="1" height="21" fill="#737375"/>
<rect x="560" y="597" width="5" height="36" fill="#1d5232"/>
<rect x="561" y="598" width="3" height="34" fill="#70a988"/>
<rect x="569" y="564" width="1" height="3" fill="#737375"/>
<rect x="569" y="598" width="1" height="16" fill="#737375"/>
<rect x="567" y="567" width="5" height="32" fill="#1d5232"/>
<rect x="568" y="568" width="3" height="30" fill="#70a988"/>
<rect x="575" y="527" width="1" height="13" fill="#737375"/>
<rect x="575" y="567" width="1" height="48" fill="#737375"/>
<rect x="573" y="540" width="5" height="28" fill="#1d5232"/>
<rect x="574" y="541" width="3" height="26" fill="#70a988"/>
<rect x="582" y="537" width="1" height="3" fill="#737375"/>
<rect x="582" y="542" width="1" height="41" fill="#737375"/>
<rect x="580" y="540" width="5" height="3" fill="#5d1414"/>
<rect x="581" y="541" width="3" height="1" fill="#e05a49"/>
<rect x="589" y="510" width="1" height="7" fill="#737375"/>
<rect x="589" y="540" width="1" height="16" fill="#737375"/>
<rect x="587" y="517" width="5" height="24" fill="#1d5232"/>
<rect x="588" y="518" width="3" height="22" fill="#70a988"/>
<rect x="596" y="485" width="1" height="15" fill="#737375"/>
<rect x="596" y="518" width="1" height="6" fill="#737375"/>
<rect x="594" y="500" width="5" height="19" fill="#1d5232"/>
<rect x="595" y="501" width="3" height="17" fill="#70a988"/>
<rect x="602" y="488" width="1" height="14" fill="#737375"/>
<rect x="602" y="574" width="1" height="4" fill="#737375"/>
<rect x="600" y="502" width="5" height="73" fill="#5d1414"/>
<rect x="601" y="503" width="3" height="71" fill="#e05a49"/>
<rect x="609" y="549" width="1" height="25" fill="#737375"/>
<rect x="609" y="596" width="1" height="9" fill="#737375"/>
<rect x="607" y="574" width="5" height="23" fill="#5d1414"/>
<rect x="608" y="575" width="3" height="21" fill="#e05a49"/>
<rect x="616" y="551" width="1" height="4" fill="#737375"/>
<rect x="616" y="594" width="1" height="3" fill="#737375"/>
<rect x="614" y="555" width="5" height="40" fill="#1d5232"/>
<rect x="615" y="556" width="3" height="38" fill="#70a988"/>
<rect x="623" y="553" width="1" height="4" fill="#737375"/>
<rect x="623" y="572" width="1" height="28" fill="#737375"/>
<rect x="621" y="557" width="5" height="16" fill="#5d1414"/>
<rect x="622" y="558" width="3" height="14" fill="#e05a49"/>
<rect x="630" y="555" width="1" height="16" fill="#737375"/>
<rect x="628" y="571" width="5" height="26" fill="#5d1414"/>
<rect x="629" y="572" width="3" height="24" fill="#e05a49"/>
<rect x="636" y="566" width="1" height="28" fill="#737375"/>
<rect x="636" y="595" width="1" height="29" fill="#737375"/>
<rect x="634" y="594" width="5" height="1" fill="#1d5232"/>
<rect x="643" y="578" width="1" height="6" fill="#737375"/>
<rect x="643" y="594" width="1" height="28" fill="#737375"/>
<rect x="641" y="584" width="5" height="11" fill="#1d5232"/>
<rect x="642" y="585" width="3" height="9" fill="#70a988"/>
<rect x="650" y="529" width="1" height="8" fill="#737375"/>
<rect x="650" y="584" width="1" height="10" fill="#737375"/>
<rect x="648" y="537" width="5" height="48" fill="#1d5232"/>
<rect x="649" y="538" width="3" height="46" fill="#70a988"/>
<rect x="657" y="512" width="1" height="25" fill="#737375"/>
<rect x="657" y="583" width="1" height="5" fill="#737375"/>
<rect x="655" y="537" width="5" height="47" fill="#5d1414"/>
<rect x="656" y="538" width="3" height="45" fill="#e05a49"/>
<rect x="663" y="575" width="1" height="9" fill="#737375"/>
<rect x="661" y="584" width="5" height="31" fill="#5d1414"/>
<rect x="662" y="585" width="3" height="29" fill="#e05a49"/>
<rect x="670" y="595" width="1" height="8" fill="#737375"/>
<rect x="670" y="614" width="1" height="21" fill="#737375"/>
<rect x="668" y="603" width="5" height="12" fill="#1d5232"/>
<rect x="669" y="604" width="3" height="10" fill="#70a988"/>
<rect x="677" y="582" width="1" height="21" fill="#737375"/>
<rect x="677" y="606" width="1" height="9" fill="#737375"/>
<rect x="675" y="603" width="5" height="4" fill="#5d1414"/>
<rect x="676" y="604" width="3" height="2" fill="#e05a49"/>
<rect x="684" y="575" width="1" height="7" fill="#737375"/>
<rect x="684" y="601" width="1" height="23" fill="#737375"/>
<rect x="682" y="582" width="5" height="20" fill="#1d5232"/>
<rect x="683" y="583" width="3" height="18" fill="#70a988"/>
<rect x="691" y="561" width="1" height="20" fill="#737375"/>
<rect x="691" y="592" width="1" height="15" fill="#737375"/>
<rect x="689" y="581" width="5" height="12" fill="#5d1414"/>
<rect x="690" y="582" width="3" height="10" fill="#e05a49"/>
<rect x="697" y="582" width="1" height="7" fill="#737375"/>
<rect x="697" y="590" width="1" height="30" fill="#737375"/>
<rect x="695" y="589" width="5" height="1" fill="#1d5232"/>
<rect x="704" y="548" width="1" height="12" fill="#737375"/>
<rect x="702" y="560" width="5" height="31" fill="#1d5232"/>
<rect x="703" y="561" width="3" height="29" fill="#70a988"/>
<rect x="711" y="456" width="1" height="7" fill="#737375"/>
<rect x="711" y="562" width="1" height="9" fill="#737375"/>
<rect x="709" y="463" width="5" height="100" fill="#1d5232"/>
<rect x="710" y="464" width="3" height="98" fill="#70a988"/>
<rect x="718" y="436" width="1" height="27" fill="#737375"/>
<rect x="718" y="481" width="1" height="4" fill="#737375"/>
<rect x="716" y="463" width="5" height="19" fill="#5d1414"/>
<rect x="717" y="464" width="3" height="17" fill="#e05a49"/>
<rect x="724" y="480" width="1" height="2" fill="#737375"/>
<rect x="724" y="506" width="1" height="21" fill="#737375"/>
<rect x="722" y="482" width="5" height="25" fill="#5d1414"/>
<rect x="723" y="483" width="3" height="23" fill="#e05a49"/>
<rect x="731" y="505" width="1" height="3" fill="#737375"/>
<rect x="731" y="516" width="1" height="23" fill="#737375"/>
<rect x="729" y="508" width="5" height="9" fill="#5d1414"/>
<rect x="730" y="509" width="3" height="7" fill="#e05a49"/>
<rect x="738" y="502" width="1" height="14" fill="#737375"/>
<rect x="738" y="552" width="1" height="3" fill="#737375"/>
<rect x="736" y="516" width="5" height="37" fill="#5d1414"/>
<rect x="737" y="517" width="3" height="35" fill="#e05a49"/>
<rect x="745" y="540" width="1" height="8" fill="#737375"/>
<rect x="745" y="549" width="1" height="21" fill="#737375"/>
<rect x="743" y="548" width="5" height="1" fill="#1d5232"/>
<rect x="752" y="517" width="1" height="3" fill="#737375"/>
<rect x="752" y="550" width="1" height="3" fill="#737375"/>
<rect x="750" y="520" width="5" height="31" fill="#1d5232"/>
<rect x="751" y="521" width="3" height="29" fill="#70a988"/>
<rect x="758" y="391" width="1" height="6" fill="#737375"/>
<rect x="758" y="518" width="1" height="8" fill="#737375"/>
<rect x="756" y="397" width="5" height="122" fill="#1d5232"/>
<rect x="757" y="398" width="3" height="120" fill="#70a988"/>
<rect x="765" y="394" width="1" height="1" fill="#737375"/>
<rect x="765" y="442" width="1" height="6" fill="#737375"/>
<rect x="763" y="395" width="5" height="48" fill="#5d1414"/>
<rect x="764" y="396" width="3" height="46" fill="#e05a49"/>
<rect x="772" y="419" width="1" height="22" fill="#737375"/>
<rect x="772" y="443" width="1" height="21" fill="#737375"/>
<rect x="770" y="441" width="5" height="3" fill="#5d1414"/>
<rect x="771" y="442" width="3" height="1" fill="#e05a49"/>
<rect x="779" y="414" width="1" height="6" fill="#737375"/>
<rect x="779" y="443" width="1" height="22" fill="#737375"/>
<rect x="777" y="420" width="5" height="24" fill="#1d5232"/>
<rect x="778" y="421" width="3" height="22" fill="#70a988"/>
<rect x="785" y="384" width="1" height="10" fill="#737375"/>
<rect x="785" y="416" width="1" height="9" fill="#737375"/>
<rect x="783" y="394" width="5" height="23" fill="#1d5232"/>
<rect x="784" y="395" width="3" height="21" fill="#70a988"/>
<rect x="792" y="362" width="1" height="11" fill="#737375"/>
<rect x="790" y="373" width="5" height="21" fill="#1d5232"/>
<rect x="791" y="374" width="3" height="19" fill="#70a988"/>
<rect x="799" y="369" width="1" height="4" fill="#737375"/>
<rect x="799" y="399" width="1" height="24" fill="#737375"/>
<rect x="797" y="373" width="5" height="27" fill="#5d1414"/>
<rect x="798" y="374" width="3" height="25" fill="#e05a49"/>
<rect x="806" y="355" width="1" height="22" fill="#737375"/>
<rect x="804" y="377" width="5" height="26" fill="#1d5232"/>
<rect x="805" y="378" width="3" height="24" fill="#70a988"/>
<rect x="813" y="330" width="1" height="9" fill="#737375"/>
<rect x="813" y="376" width="1" height="5" fill="#737375"/>
<rect x="811" y="339" width="5" height="38" fill="#1d5232"/>
<rect x="812" y="340" width="3" height="36" fill="#70a988"/>
<rect x="819" y="314" width="1" height="11" fill="#737375"/>
<rect x="819" y="337" width="1" height="8" fill="#737375"/>
<rect x="817" y="325" width="5" height="13" fill="#1d5232"/>
<rect x="818" y="326" width="3" height="11" fill="#70a988"/>
<rect x="826" y="275" width="1" height="12" fill="#737375"/>
<rect x="826" y="325" width="1" height="11" fill="#737375"/>
<rect x="824" y="287" width="5" height="39" fill="#1d5232"/>
<rect x="825" y="288" width="3" height="37" fill="#70a988"/>
<rect x="833" y="265" width="1" height="21" fill="#737375"/>
<rect x="833" y="287" width="1" height="17" fill="#737375"/>
<rect x="831" y="286" width="5" height="1" fill="#1d5232"/>
<rect x="840" y="277" width="1" height="12" fill="#737375"/>
<rect x="840" y="327" width="1" height="10" fill="#737375"/>
<rect x="838" y="289" width="5" height="39" fill="#5d1414"/>
<rect x="839" y="290" width="3" height="37" fill="#e05a49"/>
<rect x="846" y="274" width="1" height="3" fill="#737375"/>
<rect x="846" y="327" width="1" height="4" fill="#737375"/>
<rect x="844" y="277" width="5" height="51" fill="#1d5232"/>
<rect x="845" y="278" width="3" height="49" fill="#70a988"/>
<rect x="853" y="269" width="1" height="14" fill="#737375"/>
<rect x="853" y="320" width="1" height="17" fill="#737375"/>
<rect x="851" y="283" width="5" height="38" fill="#5d1414"/>
<rect x="852" y="284" width="3" height="36" fill="#e05a49"/>
<rect x="860" y="310" width="1" height="12" fill="#737375"/>
<rect x="860" y="343" width="1" height="8" fill="#737375"/>
<rect x="858" y="322" width="5" height="22" fill="#5d1414"/>
<rect x="859" y="323" width="3" height="20" fill="#e05a49"/>
<rect x="867" y="331" width="1" height="12" fill="#737375"/>
<rect x="867" y="362" width="1" height="4" fill="#737375"/>
<rect x="865" y="343" width="5" height="20" fill="#5d1414"/>
<rect x="866" y="344" width="3" height="18" fill="#e05a49"/>
<rect x="874" y="331" width="1" height="12" fill="#737375"/>
<rect x="874" y="363" width="1" height="7" fill="#737375"/>
<rect x="872" y="343" width="5" height="21" fill="#1d5232"/>
<rect x="873" y="344" width="3" height="19" fill="#70a988"/>
<rect x="880" y="337" width="1" height="6" fill="#737375"/>
<rect x="880" y="369" width="1" height="25" fill="#737375"/>
<rect x="878" y="343" width="5" height="27" fill="#5d1414"/>
<rect x="879" y="344" width="3" height="25" fill="#e05a49"/>
<rect x="887" y="344" width="1" height="21" fill="#737375"/>
<rect x="887" y="369" width="1" height="2" fill="#737375"/>
<rect x="885" y="365" width="5" height="5" fill="#1d5232"/>
<rect x="886" y="366" width="3" height="3" fill="#70a988"/>
<rect x="894" y="329" width="1" height="32" fill="#737375"/>
<rect x="894" y="364" width="1" height="23" fill="#737375"/>
<rect x="892" y="361" width="5" height="4" fill="#1d5232"/>
<rect x="893" y="362" width="3" height="2" fill="#70a988"/>
<rect x="901" y="319" width="1" height="12" fill="#737375"/>
<rect x="901" y="362" width="1" height="33" fill="#737375"/>
<rect x="899" y="331" width="5" height="32" fill="#1d5232"/>
<rect x="900" y="332" width="3" height="30" fill="#70a988"/>
<rect x="907" y="231" width="1" height="17" fill="#737375"/>
<rect x="905" y="248" width="5" height="84" fill="#1d5232"/>
<rect x="906" y="249" width="3" height="82" fill="#70a988"/>
<rect x="914" y="232" width="1" height="16" fill="#737375"/>
<rect x="914" y="298" width="1" height="3" fill="#737375"/>
<rect x="912" y="248" width="5" height="51" fill="#5d1414"/>
<rect x="913" y="249" width="3" height="49" fill="#e05a49"/>
<rect x="921" y="281" width="1" height="16" fill="#737375"/>
<rect x="921" y="314" width="1" height="10" fill="#737375"/>
<rect x="919" y="297" width="5" height="18" fill="#5d1414"/>
<rect x="920" y="298" width="3" height="16" fill="#e05a49"/>
<rect x="928" y="248" width="1" height="18" fill="#737375"/>
<rect x="928" y="312" width="1" height="3" fill="#737375"/>
<rect x="926" y="266" width="5" height="47" fill="#1d5232"/>
<rect x="927" y="267" width="3" height="45" fill="#70a988"/>
<rect x="935" y="264" width="1" height="2" fill="#737375"/>
<rect x="935" y="318" width="1" height="8" fill="#737375"/>
<rect x="933" y="266" width="5" height="53" fill="#5d1414"/>
<rect x="934" y="267" width="3" height="51" fill="#e05a49"/>
<rect x="941" y="285" width="1" height="7" fill="#737375"/>
<rect x="941" y="319" width="1" height="13" fill="#737375"/>
<rect x="939" y="292" width="5" height="28" fill="#1d5232"/>
<rect x="940" y="293" width="3" height="26" fill="#70a988"/>
<rect x="948" y="259" width="1" height="28" fill="#737375"/>
<rect x="948" y="291" width="1" height="4" fill="#737375"/>
<rect x="946" y="287" width="5" height="5" fill="#1d5232"/>
<rect x="947" y="288" width="3" height="3" fill="#70a988"/>
<rect x="955" y="275" width="1" height="8" fill="#737375"/>
<rect x="955" y="292" width="1" height="2" fill="#737375"/>
<rect x="953" y="283" width="5" height="10" fill="#5d1414"/>
<rect x="954" y="284" width="3" height="8" fill="#e05a49"/>
<rect x="962" y="266" width="1" height="5" fill="#737375"/>
<rect x="962" y="290" width="1" height="2" fill="#737375"/>
<rect x="960" y="271" width="5" height="20" fill="#1d5232"/>
<rect x="961" y="272" width="3" height="18" fill="#70a988"/>
<rect x="968" y="226" width="1" height="3" fill="#737375"/>
<rect x="968" y="270" width="1" height="15" fill="#737375"/>
<rect x="966" y="229" width="5" height="42" fill="#1d5232"/>
<rect x="967" y="230" width="3" height="40" fill="#70a988"/>
<rect x="975" y="212" width="1" height="18" fill="#737375"/>
<rect x="975" y="266" width="1" height="12" fill="#737375"/>
<rect x="973" y="230" width="5" height="37" fill="#5d1414"/>
<rect x="974" y="231" width="3" height="35" fill="#e05a49"/>
<rect x="982" y="242" width="1" height="24" fill="#737375"/>
<rect x="982" y="266" width="1" height="17" fill="#737375"/>
<rect x="980" y="266" width="5" height="1" fill="#5d1414"/>
<rect x="989" y="266" width="1" height="1" fill="#737375"/>
<rect x="989" y="270" width="1" height="4" fill="#737375"/>
<rect x="987" y="267" width="5" height="4" fill="#5d1414"/>
<rect x="988" y="268" width="3" height="2" fill="#e05a49"/>
<rect x="996" y="250" width="1" height="20" fill="#737375"/>
<rect x="996" y="330" width="1" height="4" fill="#737375"/>
<rect x="994" y="270" width="5" height="61" fill="#5d1414"/>
<rect x="995" y="271" width="3" height="59" fill="#e05a49"/>
<rect x="1002" y="296" width="1" height="8" fill="#737375"/>
<rect x="1000" y="304" width="5" height="27" fill="#1d5232"/>
<rect x="1001" y="305" width="3" height="25" fill="#70a988"/>
<rect x="1009" y="266" width="1" height="28" fill="#737375"/>
<rect x="1009" y="303" width="1" height="5" fill="#737375"/>
<rect x="1007" y="294" width="5" height="10" fill="#1d5232"/>
<rect x="1008" y="295" width="3" height="8" fill="#70a988"/>
<rect x="1016" y="244" width="1" height="30" fill="#737375"/>
<rect x="1016" y="295" width="1" height="37" fill="#737375"/>
<rect x="1014" y="274" width="5" height="22" fill="#1d5232"/>
<rect x="1015" y="275" width="3" height="20" fill="#70a988"/>
<rect x="1023" y="246" width="1" height="11" fill="#737375"/>
<rect x="1023" y="274" width="1" height="23" fill="#737375"/>
<rect x="1021" y="257" width="5" height="18" fill="#1d5232"/>
<rect x="1022" y="258" width="3" height="16" fill="#70a988"/>
<rect x="1030" y="247" width="1" height="12" fill="#737375"/>
<rect x="1030" y="278" width="1" height="11" fill="#737375"/>
<rect x="1028" y="259" width="5" height="20" fill="#5d1414"/>
<rect x="1029" y="260" width="3" height="18" fill="#e05a49"/>
<rect x="1036" y="259" width="1" height="1" fill="#737375"/>
<rect x="1036" y="278" width="1" height="13" fill="#737375"/>
<rect x="1034" y="260" width="5" height="19" fill="#1d5232"/>
<rect x="1035" y="261" width="3" height="17" fill="#70a988"/>
<rect x="1043" y="236" width="1" height="16" fill="#737375"/>
<rect x="1043" y="263" width="1" height="26" fill="#737375"/>
<rect x="1041" y="252" width="5" height="12" fill="#1d5232"/>
<rect x="1042" y="253" width="3" height="10" fill="#70a988"/>
<rect x="1050" y="235" width="1" height="17" fill="#737375"/>
<rect x="1050" y="257" width="1" height="15" fill="#737375"/>
<rect x="1048" y="252" width="5" height="6" fill="#5d1414"/>
<rect x="1049" y="253" width="3" height="4" fill="#e05a49"/>
<rect x="1057" y="247" width="1" height="9" fill="#737375"/>
<rect x="1057" y="270" width="1" height="8" fill="#737375"/>
<rect x="1055" y="256" width="5" height="15" fill="#5d1414"/>
<rect x="1056" y="257" width="3" height="13" fill="#e05a49"/>
<rect x="1063" y="267" width="1" height="2" fill="#737375"/>
<rect x="1063" y="318" width="1" height="11" fill="#737375"/>
<rect x="1061" y="269" width="5" height="50" fill="#5d1414"/>
<rect x="1062" y="270" width="3" height="48" fill="#e05a49"/>
<rect x="1070" y="285" width="1" height="13" fill="#737375"/>
<rect x="1070" y="319" width="1" height="22" fill="#737375"/>
<rect x="1068" y="298" width="5" height="22" fill="#1d5232"/>
<rect x="1069" y="299" width="3" height="20" fill="#70a988"/>
<rect x="1077" y="279" width="1" height="1" fill="#737375"/>
<rect x="1077" y="297" width="1" height="15" fill="#737375"/>
<rect x="1075" y="280" width="5" height="18" fill="#1d5232"/>
<rect x="1076" y="281" width="3" height="16" fill="#70a988"/>
<rect x="1084" y="268" width="1" height="13" fill="#737375"/>
<rect x="1084" y="282" width="1" height="23" fill="#737375"/>
<rect x="1082" y="281" width="5" height="1" fill="#5d1414"/>
<rect x="1091" y="265" width="1" height="14" fill="#737375"/>
<rect x="1091" y="284" width="1" height="7" fill="#737375"/>
<rect x="1089" y="279" width="5" height="6" fill="#1d5232"/>
<rect x="1090" y="280" width="3" height="4" fill="#70a988"/>
<rect x="1097" y="257" width="1" height="23" fill="#737375"/>
<rect x="1097" y="292" width="1" height="20" fill="#737375"/>
<rect x="1095" y="280" width="5" height="13" fill="#5d1414"/>
<rect x="1096" y="281" width="3" height="11" fill="#e05a49"/>
<rect x="1104" y="241" width="1" height="30" fill="#737375"/>
<rect x="1102" y="271" width="5" height="22" fill="#1d5232"/>
<rect x="1103" y="272" width="3" height="20" fill="#70a988"/>
<rect x="1111" y="259" width="1" height="11" fill="#737375"/>
<rect x="1111" y="280" width="1" height="13" fill="#737375"/>
<rect x="1109" y="270" width="5" height="11" fill="#5d1414"/>
<rect x="1110" y="271" width="3" height="9" fill="#e05a49"/>
<rect x="1118" y="251" width="1" height="29" fill="#737375"/>
<rect x="1118" y="282" width="1" height="15" fill="#737375"/>
<rect x="1116" y="280" width="5" height="3" fill="#5d1414"/>
<rect x="1117" y="281" width="3" height="1" fill="#e05a49"/>
<rect x="1124" y="273" width="1" height="7" fill="#737375"/>
<rect x="1124" y="283" width="1" height="22" fill="#737375"/>
<rect x="1122" y="280" width="5" height="4" fill="#1d5232"/>
<rect x="1123" y="281" width="3" height="2" fill="#70a988"/>
<rect x="1131" y="271" width="1" height="9" fill="#737375"/>
<rect x="1131" y="286" width="1" height="31" fill="#737375"/>
<rect x="1129" y="280" width="5" height="7" fill="#5d1414"/>
<rect x="1130" y="281" width="3" height="5" fill="#e05a49"/>
<rect x="1138" y="254" width="1" height="30" fill="#737375"/>
<rect x="1138" y="292" width="1" height="15" fill="#737375"/>
<rect x="1136" y="284" width="5" height="9" fill="#5d1414"/>
<rect x="1137" y="285" width="3" height="7" fill="#e05a49"/>
<rect x="1145" y="252" width="1" height="8" fill="#737375"/>
<rect x="1145" y="292" width="1" height="34" fill="#737375"/>
<rect x="1143" y="260" width="5" height="33" fill="#1d5232"/>
<rect x="1144" y="261" width="3" height="31" fill="#70a988"/>
<rect x="1152" y="243" width="1" height="16" fill="#737375"/>
<rect x="1152" y="323" width="1" height="9" fill="#737375"/>
<rect x="1150" y="259" width="5" height="65" fill="#5d1414"/>
<rect x="1151" y="260" width="3" height="63" fill="#e05a49"/>
<rect x="1158" y="318" width="1" height="4" fill="#737375"/>
<rect x="1158" y="377" width="1" height="8" fill="#737375"/>
<rect x="1156" y="322" width="5" height="56" fill="#5d1414"/>
<rect x="1157" y="323" width="3" height="54" fill="#e05a49"/>
<rect x="1165" y="337" width="1" height="6" fill="#737375"/>
<rect x="1163" y="343" width="5" height="35" fill="#1d5232"/>
<rect x="1164" y="344" width="3" height="33" fill="#70a988"/>
<rect x="1172" y="315" width="1" height="10" fill="#737375"/>
<rect x="1170" y="325" width="5" height="16" fill="#1d5232"/>
<rect x="1171" y="326" width="3" height="14" fill="#70a988"/>
<rect x="1179" y="316" width="1" height="9" fill="#737375"/>
<rect x="1179" y="332" width="1" height="23" fill="#737375"/>
<rect x="1177" y="325" width="5" height="8" fill="#5d1414"/>
<rect x="1178" y="326" width="3" height="6" fill="#e05a49"/>
<rect x="1185" y="315" width="1" height="10" fill="#737375"/>
<rect x="1185" y="331" width="1" height="9" fill="#737375"/>
<rect x="1183" y="325" width="5" height="7" fill="#1d5232"/>
<rect x="1184" y="326" width="3" height="5" fill="#70a988"/>
<rect x="1192" y="308" width="1" height="15" fill="#737375"/>
<rect x="1192" y="325" width="1" height="11" fill="#737375"/>
<rect x="1190" y="323" width="5" height="3" fill="#1d5232"/>
<rect x="1191" y="324" width="3" height="1" fill="#70a988"/>
<rect x="1199" y="288" width="1" height="36" fill="#737375"/>
<rect x="1199" y="345" width="1" height="10" fill="#737375"/>
<rect x="1197" y="324" width="5" height="22" fill="#5d1414"/>
<rect x="1198" y="325" width="3" height="20" fill="#e05a49"/>
<rect x="1206" y="333" width="1" height="12" fill="#737375"/>
<rect x="1206" y="359" width="1" height="16" fill="#737375"/>
<rect x="1204" y="345" width="5" height="15" fill="#5d1414"/>
<rect x="1205" y="346" width="3" height="13" fill="#e05a49"/>
<rect x="1213" y="338" width="1" height="2" fill="#737375"/>
<rect x="1213" y="360" width="1" height="13" fill="#737375"/>
<rect x="1211" y="340" width="5" height="21" fill="#1d5232"/>
<rect x="1212" y="341" width="3" height="19" fill="#70a988"/>
<rect x="1219" y="325" width="1" height="14" fill="#737375"/>
<rect x="1219" y="340" width="1" height="27" fill="#737375"/>
<rect x="1217" y="339" width="5" height="1" fill="#5d1414"/>
<rect x="1226" y="322" width="1" height="18" fill="#737375"/>
<rect x="1226" y="344" width="1" height="5" fill="#737375"/>
<rect x="1224" y="340" width="5" height="5" fill="#5d1414"/>
<rect x="1225" y="341" width="3" height="3" fill="#e05a49"/>
<rect x="1233" y="300" width="1" height="26" fill="#737375"/>
<rect x="1233" y="343" width="1" height="8" fill="#737375"/>
<rect x="1231" y="326" width="5" height="18" fill="#1d5232"/>
<rect x="1232" y="327" width="3" height="16" fill="#70a988"/>
<rect x="1240" y="315" width="1" height="5" fill="#737375"/>
<rect x="1240" y="329" width="1" height="9" fill="#737375"/>
<rect x="1238" y="320" width="5" height="10" fill="#1d5232"/>
<rect x="1239" y="321" width="3" height="8" fill="#70a988"/>
<rect x="1246" y="277" width="1" height="29" fill="#737375"/>
<rect x="1246" y="320" width="1" height="12" fill="#737375"/>
<rect x="1244" y="306" width="5" height="15" fill="#1d5232"/>
<rect x="1245" y="307" width="3" height="13" fill="#70a988"/>
<rect x="1253" y="282" width="1" height="18" fill="#737375"/>
<rect x="1253" y="306" width="1" height="6" fill="#737375"/>
<rect x="1251" y="300" width="5" height="7" fill="#1d5232"/>
<rect x="1252" y="301" width="3" height="5" fill="#70a988"/>
<rect x="1260" y="283" width="1" height="10" fill="#737375"/>
<rect x="1260" y="296" width="1" height="12" fill="#737375"/>
<rect x="1258" y="293" width="5" height="4" fill="#1d5232"/>
<rect x="1259" y="294" width="3" height="2" fill="#70a988"/>
<rect x="1267" y="285" width="1" height="6" fill="#737375"/>
<rect x="1267" y="294" width="1" height="12" fill="#737375"/>
<rect x="1265" y="291" width="5" height="4" fill="#1d5232"/>
<rect x="1266" y="292" width="3" height="2" fill="#70a988"/>
<rect x="1274" y="290" width="1" height="3" fill="#737375"/>
<rect x="1274" y="305" width="1" height="20" fill="#737375"/>
<rect x="1272" y="293" width="5" height="13" fill="#5d1414"/>
<rect x="1273" y="294" width="3" height="11" fill="#e05a49"/>
<rect x="1280" y="292" width="1" height="13" fill="#737375"/>
<rect x="1280" y="326" width="1" height="6" fill="#737375"/>
<rect x="1278" y="305" width="5" height="22" fill="#5d1414"/>
<rect x="1279" y="306" width="3" height="20" fill="#e05a49"/>
<rect x="1287" y="303" width="1" height="6" fill="#737375"/>
<rect x="1287" y="326" width="1" height="14" fill="#737375"/>
<rect x="1285" y="309" width="5" height="18" fill="#1d5232"/>
<rect x="1286" y="310" width="3" height="16" fill="#70a988"/>
<rect x="1294" y="279" width="1" height="9" fill="#737375"/>
<rect x="1292" y="288" width="5" height="24" fill="#1d5232"/>
<rect x="1293" y="289" width="3" height="22" fill="#70a988"/>
<rect x="1301" y="264" width="1" height="16" fill="#737375"/>
<rect x="1301" y="288" width="1" height="11" fill="#737375"/>
<rect x="1299" y="280" width="5" height="9" fill="#1d5232"/>
<rect x="1300" y="281" width="3" height="7" fill="#70a988"/>
<rect x="1307" y="248" width="1" height="18" fill="#737375"/>
<rect x="1307" y="281" width="1" height="7" fill="#737375"/>
<rect x="1305" y="266" width="5" height="16" fill="#1d5232"/>
<rect x="1306" y="267" width="3" height="14" fill="#70a988"/>
<rect x="1314" y="221" width="1" height="2" fill="#737375"/>
<rect x="1314" y="266" width="1" height="5" fill="#737375"/>
<rect x="1312" y="223" width="5" height="44" fill="#1d5232"/>
<rect x="1313" y="224" width="3" height="42" fill="#70a988"/>
<rect x="1321" y="175" width="1" height="22" fill="#737375"/>
<rect x="1321" y="223" width="1" height="5" fill="#737375"/>
<rect x="1319" y="197" width="5" height="27" fill="#1d5232"/>
<rect x="1320" y="198" width="3" height="25" fill="#70a988"/>
<rect x="1328" y="192" width="1" height="4" fill="#737375"/>
<rect x="1328" y="221" width="1" height="10" fill="#737375"/>
<rect x="1326" y="196" width="5" height="26" fill="#5d1414"/>
<rect x="1327" y="197" width="3" height="24" fill="#e05a49"/>
<rect x="1335" y="214" width="1" height="7" fill="#737375"/>
<rect x="1335" y="232" width="1" height="26" fill="#737375"/>
<rect x="1333" y="221" width="5" height="12" fill="#5d1414"/>
<rect x="1334" y="222" width="3" height="10" fill="#e05a49"/>
<rect x="1341" y="221" width="1" height="7" fill="#737375"/>
<rect x="1341" y="232" width="1" height="10" fill="#737375"/>
<rect x="1339" y="228" width="5" height="5" fill="#1d5232"/>
<rect x="1340" y="229" width="3" height="3" fill="#70a988"/>
<rect x="1348" y="214" width="1" height="14" fill="#737375"/>
<rect x="1348" y="253" width="1" height="14" fill="#737375"/>
<rect x="1346" y="228" width="5" height="26" fill="#5d1414"/>
<rect x="1347" y="229" width="3" height="24" fill="#e05a49"/>
<rect x="1355" y="250" width="1" height="4" fill="#737375"/>
<rect x="1355" y="261" width="1" height="9" fill="#737375"/>
<rect x="1353" y="254" width="5" height="8" fill="#5d1414"/>
<rect x="1354" y="255" width="3" height="6" fill="#e05a49"/>
<rect x="1362" y="257" width="1" height="4" fill="#737375"/>
<rect x="1362" y="267" width="1" height="7" fill="#737375"/>
<rect x="1360" y="261" width="5" height="7" fill="#5d1414"/>
<rect x="1361" y="262" width="3" height="5" fill="#e05a49"/>
<rect x="1368" y="265" width="1" height="3" fill="#737375"/>
<rect x="1368" y="272" width="1" height="29" fill="#737375"/>
<rect x="1366" y="268" width="5" height="5" fill="#5d1414"/>
<rect x="1367" y="269" width="3" height="3" fill="#e05a49"/>
<rect x="1375" y="235" width="1" height="1" fill="#737375"/>
<rect x="1375" y="272" width="1" height="20" fill="#737375"/>
<rect x="1373" y="236" width="5" height="37" fill="#1d5232"/>
<rect x="1374" y="237" width="3" height="35" fill="#70a988"/>
<rect x="1382" y="226" width="1" height="10" fill="#737375"/>
<rect x="1382" y="307" width="1" height="3" fill="#737375"/>
<rect x="1380" y="236" width="5" height="72" fill="#5d1414"/>
<rect x="1381" y="237" width="3" height="70" fill="#e05a49"/>
<rect x="1389" y="297" width="1" height="11" fill="#737375"/>
<rect x="1389" y="329" width="1" height="24" fill="#737375"/>
<rect x="1387" y="308" width="5" height="22" fill="#5d1414"/>
<rect x="1388" y="309" width="3" height="20" fill="#e05a49"/>
</g>
<line x1="3" y1="329.5" x2="1460" y2="329.5" stroke="#d8432e" stroke-width="1" stroke-dasharray="1 2"/>
<rect x="3" y="687" width="1517" height="1" fill="#e0e3eb"/>
<rect x="3" y="726" width="1517" height="1" fill="#e0e3eb"/>
<rect x="3" y="749.5" width="1457" height="23" fill="#e8f4fd"/>
<line x1="3" y1="749.5" x2="1460" y2="749.5" stroke="#6a6d78" stroke-width="1" stroke-dasharray="5 6"/>
<line x1="3" y1="761.5" x2="1460" y2="761.5" stroke="#b4b7c0" stroke-width="1" stroke-dasharray="5 6"/>
<line x1="3" y1="772.5" x2="1460" y2="772.5" stroke="#6a6d78" stroke-width="1" stroke-dasharray="5 6"/>
<path d="M2.5,701.7 L12.5,699.2 L25.0,695.7 L37.4,698.0 L50.0,697.0 L62.0,697.5 L75.0,700.5 L85.0,699.5 L100.0,698.7 L112.0,702.5 L127.0,704.2 L140.0,701.2 L154.7,701.2 L162.0,697.5 L174.7,702.0 L182.0,702.0 L189.6,697.0 L197.0,695.5 L212.0,697.0 L222.0,697.5 L229.5,690.5 L235.8,689.5 L243.3,693.2 L249.5,693.2 L259.5,692.0 L269.5,691.7 L279.4,693.2 L290.7,695.5 L297.0,693.0 L307.0,694.5 L321.9,697.0 L336.8,699.5 L349.3,702.0 L359.3,697.5 L369.3,695.7 L380.0,698.7 L385.0,698.7 L392.5,696.7 L398.7,698.0 L406.2,695.7 L413.7,698.2 L424.9,697.0 L439.9,701.2 L457.3,703.7 L466.0,702.5 L473.6,703.7 L486.0,708.7 L493.5,708.2 L501.0,707.0 L514.7,709.5 L528.5,712.0 L539.7,710.0 L548.4,707.0 L554.7,709.2 L562.0,705.7 L569.6,705.5 L575.9,701.5 L587.0,702.5 L595.8,704.2 L602.0,700.0 L609.5,699.5 L619.5,700.5 L629.5,702.0 L637.0,701.5 L643.2,702.5 L649.5,701.2 L657.0,698.2 L667.0,700.7 L676.9,703.2 L689.4,704.0 L698.0,705.5 L704.4,706.0 L710.6,699.2 L721.8,699.5 L731.8,702.0 L738.0,701.7 L745.5,704.0 L751.8,705.5 L756.8,696.7 L760.0,696.2 L770.0,697.5 L780.0,698.2 L791.2,701.7 L799.9,701.2 L812.4,702.0 L818.6,704.2 L826.0,703.0 L833.6,704.2 L846.0,702.5 L853.6,700.5 L859.8,701.5 L873.5,704.5 L879.8,704.0 L887.2,706.2 L894.7,705.5 L901.0,702.5 L907.2,697.0 L913.4,695.5 L920.9,697.0 L934.7,695.0 L942.0,696.2 L948.4,698.2 L955.9,702.0 L962.0,704.2 L974.6,702.0 L982.0,703.0 L989.5,708.0 L995.8,703.7 L1002.0,705.5 L1008.3,706.5 L1015.7,702.0 L1022.0,701.7 L1028.2,702.5 L1035.7,704.5 L1042.0,704.2 L1049.4,705.7 L1056.9,708.0 L1069.4,705.7 L1076.9,707.5 L1090.6,711.2 L1103.0,709.5 L1111.8,710.7 L1118.0,710.7 L1125.0,712.0 L1132.4,712.0 L1138.7,711.0 L1144.9,708.2 L1152.4,703.2 L1158.6,702.0 L1164.9,703.2 L1172.4,705.7 L1178.6,707.0 L1186.0,709.5 L1192.3,711.2 L1198.6,709.0 L1206.0,709.5 L1212.3,710.5 L1218.5,711.2 L1226.0,713.2 L1232.2,712.5 L1239.7,715.0 L1246.0,713.5 L1254.7,715.5 L1267.2,719.0 L1274.7,719.2 L1287.0,719.5 L1297.0,720.5 L1307.0,720.2 L1314.6,719.0 L1320.8,718.0 L1328.3,718.0 L1334.5,717.7 L1340.8,720.2 L1348.3,718.5 L1354.5,720.5 L1362.0,723.2 L1368.2,723.2 L1374.5,721.5 L1382.0,715.7 L1389.0,714.5" fill="none" stroke="#c0392b" stroke-width="1.1" stroke-linejoin="round" stroke-linecap="round" />
<path d="M3.0,743.6 L6.2,746.1 L15.0,738.6 L22.5,736.1 L31.2,735.6 L37.4,739.4 L50.0,746.9 L62.4,751.1 L74.9,752.9 L84.8,757.4 L93.6,761.1 L99.8,758.6 L112.3,756.9 L119.8,758.1 L128.5,755.6 L137.2,743.6 L147.2,736.9 L154.7,734.9 L161.7,730.4 L169.7,736.6 L174.7,742.4 L182.0,746.1 L189.6,753.6 L199.6,758.1 L209.6,761.1 L222.0,756.9 L229.5,761.1 L235.8,764.3 L243.3,764.3 L252.0,771.1 L262.0,777.3 L269.5,772.3 L277.0,770.3 L289.4,770.3 L299.4,771.1 L310.6,772.8 L319.4,768.1 L330.6,763.8 L338.0,765.3 L351.8,761.8 L359.3,773.6 L365.5,782.3 L371.8,787.3 L380.0,781.8 L385.0,774.8 L392.5,761.6 L398.7,763.1 L406.2,772.3 L413.7,771.8 L419.9,776.6 L427.4,780.3 L432.9,781.8 L439.9,778.6 L446.0,773.1 L458.6,772.8 L467.3,775.3 L474.3,776.3 L481.0,775.3 L488.5,772.8 L494.8,774.3 L501.0,778.6 L514.7,778.8 L528.5,778.6 L540.9,770.6 L548.4,774.1 L554.7,775.3 L562.0,771.1 L569.6,767.3 L575.9,764.8 L582.0,763.6 L589.6,759.4 L595.8,755.4 L602.0,761.1 L609.0,767.3 L615.8,763.3 L623.3,764.1 L629.5,765.3 L636.5,768.3 L643.2,767.6 L649.5,753.6 L657.0,756.9 L663.2,770.3 L670.0,771.8 L676.9,767.8 L684.4,765.6 L690.6,764.6 L696.9,768.6 L704.4,757.9 L710.6,738.6 L718.0,736.1 L724.3,746.1 L734.3,751.6 L744.8,758.1 L751.8,753.1 L757.2,738.6 L760.0,738.3 L765.0,740.6 L772.5,745.4 L778.7,746.4 L785.0,744.4 L792.0,744.1 L798.7,748.6 L806.2,747.4 L813.6,745.9 L819.9,745.1 L827.4,743.9 L832.9,743.9 L839.8,748.9 L846.0,747.9 L853.6,751.1 L861.0,754.4 L867.3,756.4 L874.3,756.6 L881.0,759.9 L887.2,760.6 L894.7,760.6 L901.0,759.1 L907.2,743.4 L914.2,746.6 L920.9,754.1 L927.7,748.6 L934.7,755.4 L940.9,756.4 L948.4,750.6 L955.0,752.9 L961.6,751.1 L968.3,744.4 L975.0,747.4 L982.0,751.1 L989.0,753.1 L995.8,760.6 L1002.0,763.1 L1008.8,758.6 L1015.7,757.4 L1022.7,752.6 L1029.5,754.9 L1035.7,755.1 L1043.2,749.9 L1049.9,749.4 L1056.9,754.4 L1063.0,772.8 L1069.9,773.8 L1076.9,766.6 L1083.9,764.8 L1090.6,760.6 L1096.8,764.8 L1103.8,755.4 L1110.5,758.6 L1117.5,757.9 L1124.5,762.8 L1131.2,766.3 L1144.9,760.3 L1151.6,772.3 L1158.0,797.8 L1164.9,786.0 L1172.4,774.1 L1179.3,773.6 L1186.0,769.3 L1192.3,767.3 L1199.0,768.1 L1206.0,774.3 L1213.5,771.1 L1219.8,768.6 L1227.2,766.3 L1233.5,763.1 L1240.2,761.6 L1246.7,755.6 L1253.4,751.9 L1259.7,750.1 L1267.2,750.4 L1273.4,752.9 L1280.0,756.6 L1287.0,756.1 L1293.4,748.1 L1299.6,743.6 L1306.6,741.1 L1313.3,736.1 L1320.8,731.7 L1327.0,738.6 L1334.5,746.1 L1340.8,747.4 L1347.8,752.4 L1354.5,756.1 L1361.5,758.1 L1368.2,761.6 L1375.0,756.6 L1381.9,765.3 L1389.0,774.8" fill="none" stroke="#2962ff" stroke-width="1.1" stroke-linejoin="round" stroke-linecap="round" />
<rect x="1460" y="2" width="60" height="801" fill="#fff"/>
<rect x="3" y="687" width="1517" height="1" fill="#e0e3eb"/>
<rect x="3" y="726" width="1517" height="1" fill="#e0e3eb"/>
<rect x="1460" y="2" width="1" height="829" fill="#4a4a4a"/>
<rect x="3" y="803" width="1517" height="1" fill="#4a4a4a"/>
<text x="1468.5" y="64.7" font-family="Liberation Sans, sans-serif" font-size="11.6" fill="#555">1.3100</text>
<text x="1468.5" y="120.5" font-family="Liberation Sans, sans-serif" font-size="11.6" fill="#555">1.3000</text>
<text x="1468.5" y="176.2" font-family="Liberation Sans, sans-serif" font-size="11.6" fill="#555">1.2900</text>
<text x="1468.5" y="232.0" font-family="Liberation Sans, sans-serif" font-size="11.6" fill="#555">1.2800</text>
<text x="1468.5" y="287.8" font-family="Liberation Sans, sans-serif" font-size="11.6" fill="#555">1.2700</text>
<text x="1468.5" y="343.6" font-family="Liberation Sans, sans-serif" font-size="11.6" fill="#555">1.2600</text>
<text x="1468.5" y="399.3" font-family="Liberation Sans, sans-serif" font-size="11.6" fill="#555">1.2500</text>
<text x="1468.5" y="455.1" font-family="Liberation Sans, sans-serif" font-size="11.6" fill="#555">1.2400</text>
<text x="1468.5" y="510.9" font-family="Liberation Sans, sans-serif" font-size="11.6" fill="#555">1.2300</text>
<text x="1468.5" y="566.6" font-family="Liberation Sans, sans-serif" font-size="11.6" fill="#555">1.2200</text>
<text x="1468.5" y="622.4" font-family="Liberation Sans, sans-serif" font-size="11.6" fill="#555">1.2100</text>
<text x="1468.5" y="678.2" font-family="Liberation Sans, sans-serif" font-size="11.6" fill="#555">1.2000</text>
<text x="1468.5" y="698.8" font-family="Liberation Sans, sans-serif" font-size="11.6" fill="#555">0.0100</text>
<text x="1468.5" y="765.3" font-family="Liberation Sans, sans-serif" font-size="11.6" fill="#555">0.00</text>
<path d="M1460,28 h47 q2,0 2,2 v13 q0,2 -2,2 h-47 z" fill="#000"/>
<text x="1468" y="40.5" font-family="Liberation Sans, sans-serif" font-size="11.6" font-weight="bold" fill="#fff">1.3143</text>
<path d="M1460,252 h47 q2,0 2,2 v13 q0,2 -2,2 h-47 z" fill="#000"/>
<text x="1468" y="264.5" font-family="Liberation Sans, sans-serif" font-size="11.6" font-weight="bold" fill="#fff">1.2742</text>
<path d="M1460,293 h47 q2,0 2,2 v13 q0,2 -2,2 h-47 z" fill="#000"/>
<text x="1468" y="305.5" font-family="Liberation Sans, sans-serif" font-size="11.6" font-weight="bold" fill="#fff">1.2667</text>
<path d="M1460,360 h47 q2,0 2,2 v13 q0,2 -2,2 h-47 z" fill="#000"/>
<text x="1468" y="372.5" font-family="Liberation Sans, sans-serif" font-size="11.6" font-weight="bold" fill="#fff">1.2547</text>
<path d="M1460,453 h47 q2,0 2,2 v13 q0,2 -2,2 h-47 z" fill="#000"/>
<text x="1468" y="465.5" font-family="Liberation Sans, sans-serif" font-size="11.6" font-weight="bold" fill="#fff">1.2381</text>
<path d="M1460,496 h47 q2,0 2,2 v13 q0,2 -2,2 h-47 z" fill="#000"/>
<text x="1468" y="508.5" font-family="Liberation Sans, sans-serif" font-size="11.6" font-weight="bold" fill="#fff">1.2303</text>
<rect x="1461" y="3" width="59" height="33" fill="#fff"/>
<rect x="1464.5" y="6.5" width="51" height="25" rx="3.5" fill="#fff" stroke="#e0e3eb"/>
<text x="1468.7" y="23" font-family="Liberation Sans, sans-serif" font-size="11.6" fill="#131722" textLength="20.5" lengthAdjust="spacingAndGlyphs">USD</text>
<path d="M1505.5,17.5 l2.5,2.5 l2.5,-2.5" fill="none" stroke="#131722" stroke-width="1.3"/>
<text x="108.0" y="820.5" font-family="Liberation Sans, sans-serif" font-size="11.6" fill="#555" text-anchor="middle">Jul</text>
<text x="250.4" y="820.5" font-family="Liberation Sans, sans-serif" font-size="11.6" fill="#555" text-anchor="middle">Aug</text>
<text x="406.3" y="820.5" font-family="Liberation Sans, sans-serif" font-size="11.6" fill="#555" text-anchor="middle">Sep</text>
<text x="548.7" y="820.5" font-family="Liberation Sans, sans-serif" font-size="11.6" fill="#555" text-anchor="middle">Oct</text>
<text x="697.8" y="820.5" font-family="Liberation Sans, sans-serif" font-size="11.6" fill="#555" text-anchor="middle">Nov</text>
<text x="847.0" y="820.5" font-family="Liberation Sans, sans-serif" font-size="11.6" fill="#555" text-anchor="middle">Dec</text>
<text x="989.3" y="820.5" font-family="Liberation Sans, sans-serif" font-size="11.6" fill="#555" text-anchor="middle" font-weight="bold">2024</text>
<text x="1145.3" y="820.5" font-family="Liberation Sans, sans-serif" font-size="11.6" fill="#555" text-anchor="middle">Feb</text>
<text x="1287.6" y="820.5" font-family="Liberation Sans, sans-serif" font-size="11.6" fill="#555" text-anchor="middle">Mar</text>
<text x="1430.0" y="820.5" font-family="Liberation Sans, sans-serif" font-size="11.6" fill="#555" text-anchor="middle">Apr</text>
<path d="M1483.6,817 l3.3,-5.9 h6.8 l3.3,5.9 l-3.3,5.9 h-6.8 z" fill="none" stroke="#131722" stroke-width="1.1"/>
<circle cx="1490.3" cy="817" r="1.9" fill="none" stroke="#131722" stroke-width="1.1"/>
<rect x="4" y="3" width="700" height="30" fill="#fff" fill-opacity="0.7"/>
<g>
<circle cx="24.8" cy="15" r="6" fill="#fff"/>
<clipPath id="us"><circle cx="24.8" cy="15" r="5.5"/></clipPath>
<g clip-path="url(#us)"><rect x="19" y="9" width="12" height="12" fill="#fff"/><rect x="19" y="10.3" width="12" height="1.5" fill="#e8413c"/><rect x="19" y="13.3" width="12" height="1.5" fill="#e8413c"/><rect x="19" y="16.3" width="12" height="1.5" fill="#e8413c"/><rect x="19" y="19.3" width="12" height="1.5" fill="#e8413c"/><rect x="19" y="9" width="6.3" height="6.3" fill="#4a78c8"/></g>
<circle cx="17.7" cy="20.8" r="6.3" fill="#fff"/>
<clipPath id="gb"><circle cx="17.7" cy="20.8" r="5.5"/></clipPath>
<g clip-path="url(#gb)"><rect x="12" y="15" width="12" height="12" fill="#2e4fa5"/><path d="M12,15 L23.4,26.6 M23.4,15 L12,26.6" stroke="#fff" stroke-width="2.4"/><path d="M12,15 L23.4,26.6 M23.4,15 L12,26.6" stroke="#e8413c" stroke-width="0.9"/><path d="M17.7,15 V27 M12,20.8 H24" stroke="#fff" stroke-width="3.4"/><path d="M17.7,15 V27 M12,20.8 H24" stroke="#e8413c" stroke-width="1.9"/></g>
</g>
<text x="34" y="24" font-family="Liberation Sans, sans-serif" font-size="15.4" fill="#444" textLength="254" lengthAdjust="spacingAndGlyphs">British Pound / U.S. Dollar · 1D · ICE</text>
<path d="M300,13.2 h12.6 l-3.2,5.1 l3.2,5.1 h-12.6 z" fill="#f7525f"/>
<circle cx="340.2" cy="18.3" r="8.3" fill="#089981" fill-opacity="0.18"/><circle cx="340.2" cy="18.3" r="3.9" fill="#089981"/>
<text x="365.5" y="23" font-family="Liberation Sans, sans-serif" font-size="12.3" fill="#6b6e78" textLength="47.7" lengthAdjust="spacingAndGlyphs">O<tspan fill="#7a2a2a">1.2656</tspan></text>
<text x="420.7" y="23" font-family="Liberation Sans, sans-serif" font-size="12.3" fill="#6b6e78" textLength="46.9" lengthAdjust="spacingAndGlyphs">H<tspan fill="#7a2a2a">1.2675</tspan></text>
<text x="475.3" y="23" font-family="Liberation Sans, sans-serif" font-size="12.3" fill="#6b6e78" textLength="44.1" lengthAdjust="spacingAndGlyphs">L<tspan fill="#7a2a2a">1.2576</tspan></text>
<text x="527.4" y="23" font-family="Liberation Sans, sans-serif" font-size="12.3" fill="#6b6e78" textLength="45.8" lengthAdjust="spacingAndGlyphs">C<tspan fill="#7a2a2a">1.2617</tspan></text>
<text x="581.2" y="23" font-family="Liberation Sans, sans-serif" font-size="12.3" fill="#6b6e78" textLength="43.6" lengthAdjust="spacingAndGlyphs"><tspan fill="#7a2a2a">−0.0040</tspan></text>
<text x="631.6" y="23" font-family="Liberation Sans, sans-serif" font-size="12.3" fill="#6b6e78" textLength="47.4" lengthAdjust="spacingAndGlyphs"><tspan fill="#7a2a2a">(−0.32%)</tspan></text>
<rect x="8" y="33" width="138" height="26" fill="#fff" fill-opacity="0.6"/>
<rect x="11.5" y="34.5" width="54" height="23" rx="4" fill="#fff" stroke="#f23645" stroke-width="1"/>
<text x="38.5" y="50.5" font-family="Liberation Sans, sans-serif" font-size="12.3" fill="#f23645" text-anchor="middle">1.2617</text>
<text x="77" y="50" font-family="Liberation Sans, sans-serif" font-size="11" fill="#333" text-anchor="middle">1</text>
<rect x="88.5" y="34.5" width="54" height="23" rx="4" fill="#fff" stroke="#2962ff" stroke-width="1"/>
<text x="115.5" y="50.5" font-family="Liberation Sans, sans-serif" font-size="12.3" fill="#2962ff" text-anchor="middle">1.2618</text>
<rect x="7" y="61" width="163" height="25" fill="#fff" fill-opacity="0.55"/>
<rect x="170" y="61" width="378" height="25" fill="#fff" fill-opacity="0.75"/>
<text x="12" y="78.6" font-family="Liberation Sans, sans-serif" font-size="12.4" fill="#555" textLength="383" lengthAdjust="spacingAndGlyphs">MA Ribbon SMA close 20 SMA close 50 SMA close 100 SMA close 200</text>
<text x="404.1" y="78.6" font-family="Liberation Sans, sans-serif" font-size="12.4" fill="#f23645" textLength="37.4" lengthAdjust="spacingAndGlyphs">1.2725</text>
<text x="449.3" y="78.6" font-family="Liberation Sans, sans-serif" font-size="12.4" fill="#2962ff" textLength="36.9" lengthAdjust="spacingAndGlyphs">1.2681</text>
<text x="493" y="78.6" font-family="Liberation Sans, sans-serif" font-size="11" fill="#333">∅</text>
<text x="507.6" y="78.6" font-family="Liberation Sans, sans-serif" font-size="12.4" fill="#111" textLength="37" lengthAdjust="spacingAndGlyphs">1.2591</text>
<rect x="12.5" y="88.5" width="28" height="19" rx="3" fill="#fff" fill-opacity="0.85" stroke="#e0e3eb"/>
<path d="M22.5,100 l4,-4 l4,4" fill="none" stroke="#222" stroke-width="1.4"/>
<rect x="7" y="695" width="122" height="19" fill="#fff" fill-opacity="0.55"/>
<text x="12" y="708.5" font-family="Liberation Sans, sans-serif" font-size="12.5" fill="#555" textLength="66.5" lengthAdjust="spacingAndGlyphs">ATR 14 RMA</text>
<text x="88" y="708.5" font-family="Liberation Sans, sans-serif" font-size="12.5" fill="#b22833" textLength="38" lengthAdjust="spacingAndGlyphs">0.0076</text>
<rect x="7" y="734" width="167" height="19" fill="#fff" fill-opacity="0.55"/>
<text x="12" y="747.7" font-family="Liberation Sans, sans-serif" font-size="12.5" fill="#555" textLength="101.5" lengthAdjust="spacingAndGlyphs">CCI 20 hlc3 SMA 5</text>
<text x="122.7" y="747.7" font-family="Liberation Sans, sans-serif" font-size="12.5" fill="#2962ff" textLength="45" lengthAdjust="spacingAndGlyphs">−129.30</text>
<path d="M15.2,774.2 H27 V789 H20.8 V780 H15.2 Z" fill="#131722"/><circle cx="32.1" cy="777.1" r="2.8" fill="#131722"/><path d="M37,774.2 H45 L39.2,789 H32.1 Z" fill="#131722"/>
<defs><filter id="ws" x="-10%" y="-10%" width="125%" height="130%"><feGaussianBlur stdDeviation="0.9"/></filter></defs>
<g opacity="0.8">
<g transform="translate(1271.3,791.8) skewX(-12.5)" fill="#333" fill-opacity="0.68" filter="url(#ws)">
<text x="0" y="0" font-family="'Liberation Sans', 'Noto Sans CJK SC', sans-serif" font-size="62.5" font-weight="bold" textLength="246" lengthAdjust="spacingAndGlyphs">海马财经</text>
</g>
<g transform="translate(1269,789.5) skewX(-12.5)" fill="#fff" fill-opacity="1" >
<text x="0" y="0" font-family="'Liberation Sans', 'Noto Sans CJK SC', sans-serif" font-size="62.5" font-weight="bold" textLength="246" lengthAdjust="spacingAndGlyphs">海马财经</text>
</g>
</g>
<g font-family="Liberation Sans, sans-serif" font-size="32.5" font-weight="bold" font-style="italic" fill="#5aa0e6" fill-opacity="0.7" filter="url(#ws)">
<text transform="translate(1289.6,828.6) scale(1.06,1)">z</text>
<text transform="translate(1316.1999999999998,828.6) scale(1.06,1)">z</text>
<text transform="translate(1343.6,828.6) scale(1.06,1)">r</text>
<text transform="translate(1369.3999999999999,828.6) scale(1.06,1)">t</text>
<text transform="translate(1389.1,828.6) scale(1.06,1)">0</text>
<text transform="translate(1418.6,828.6) scale(1.06,1)">1</text>
<text transform="translate(1446.1999999999998,828.6) scale(1.06,1)">.</text>
<text transform="translate(1466.8,828.6) scale(1.06,1)">c</text>
<text transform="translate(1495.3999999999999,828.6) scale(1.06,1)">n</text>
</g>
<g font-family="Liberation Sans, sans-serif" font-size="32.5" font-weight="bold" font-style="italic" fill="#8ccbfa" fill-opacity="0.95" >
<text transform="translate(1288,827) scale(1.06,1)">z</text>
<text transform="translate(1314.6,827) scale(1.06,1)">z</text>
<text transform="translate(1342,827) scale(1.06,1)">r</text>
<text transform="translate(1367.8,827) scale(1.06,1)">t</text>
<text transform="translate(1387.5,827) scale(1.06,1)">0</text>
<text transform="translate(1417,827) scale(1.06,1)">1</text>
<text transform="translate(1444.6,827) scale(1.06,1)">.</text>
<text transform="translate(1465.2,827) scale(1.06,1)">c</text>
<text transform="translate(1493.8,827) scale(1.06,1)">n</text>
</g>
<rect x="1520" y="0" width="3" height="833" fill="#e0e3eb"/>
<rect x="0" y="831" width="1523" height="1" fill="#e0e3eb"/>
<rect x="3" y="832" width="1517" height="1" fill="#fff"/>
</svg></body></html>
